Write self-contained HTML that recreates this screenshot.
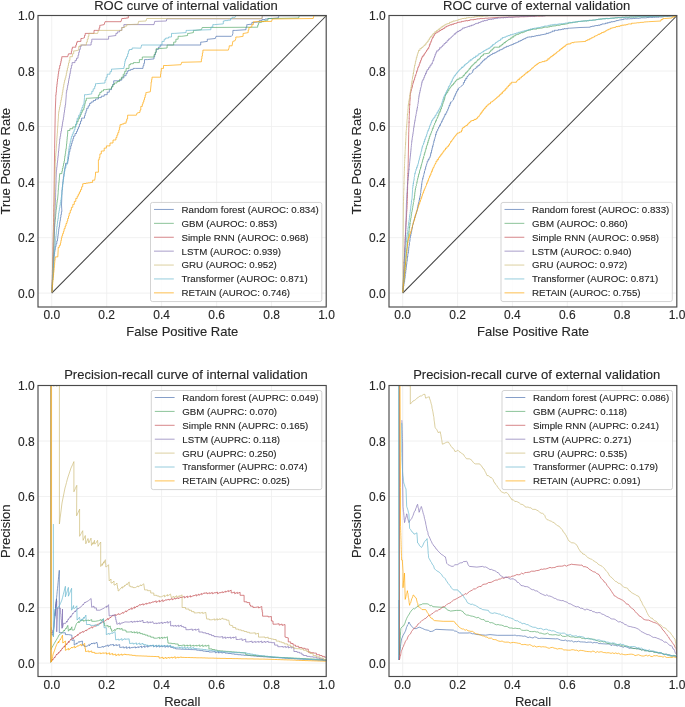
<!DOCTYPE html><html><head><meta charset="utf-8"><style>html,body{margin:0;padding:0;background:#fff;}svg{display:block;will-change:transform;} text{stroke:#262626;stroke-width:0.12px;}</style></head><body><svg width="685" height="707" viewBox="0 0 685 707" font-family='"Liberation Sans", sans-serif'>
<rect width="685" height="707" fill="#fff"/>
<clipPath id="clipTL"><rect x="38" y="15.5" width="288.5" height="291.5"/></clipPath>
<path d="M51.74 15.5V307M38 293.12H326.5M106.69 15.5V307M38 237.60H326.5M161.64 15.5V307M38 182.07H326.5M216.60 15.5V307M38 126.55H326.5M271.55 15.5V307M38 71.02H326.5M326.50 15.5V307M38 15.50H326.5" stroke="#eeeeee" stroke-width="0.85" fill="none"/>
<path d="M51.74 293.12L326.50 15.50" stroke="#404040" stroke-width="1.05" fill="none"/>
<g clip-path="url(#clipTL)" fill="none" stroke-width="1.0" stroke-linejoin="miter" stroke-opacity="0.68">
<path d="M52.0,292.3 52.0,289.9 52.1,289.9 52.1,287.5 52.3,287.5 52.3,285.0 52.4,285.0 52.4,282.6 52.5,282.6 52.5,280.2 52.7,280.2 52.7,277.8 52.8,277.8 52.8,275.4 53.0,275.4 53.0,272.9 53.1,272.9 53.1,270.5 53.2,270.5 53.2,268.1 53.4,268.1 53.4,265.7 53.5,265.7 53.5,263.2 53.6,263.2 53.6,260.8 53.8,260.8 53.8,258.4 53.9,258.4 53.9,256.2 54.2,256.2 54.2,254.0 54.6,254.0 54.6,251.8 54.9,251.8 54.9,249.6 55.3,249.6 55.3,246.7 56.0,246.7 56.0,243.8 56.8,243.8 56.8,240.9 57.5,240.9 57.5,238.6 57.8,238.6 57.8,236.2 58.1,236.2 58.1,233.9 58.4,233.9 58.4,231.5 58.7,231.5 58.7,229.2 59.0,229.2 59.0,227.0 59.4,227.0 59.4,224.8 59.7,224.8 59.7,222.6 60.0,222.6 60.0,220.4 60.4,220.4 60.4,217.5 60.9,217.5 60.9,214.6 61.4,214.6 61.4,211.7 61.9,211.7 61.5,205.0 62.0,192.6 62.0,190.0 62.3,190.0 62.3,187.4 62.6,187.4 62.6,184.7 62.8,184.7 62.8,182.1 63.1,182.1 63.1,179.5 63.4,179.5 63.4,176.9 63.8,176.9 63.8,174.2 64.2,174.2 64.2,171.6 64.7,171.6 64.7,168.9 65.1,168.9 65.1,166.3 65.5,166.3 65.5,163.4 67.7,163.4 67.7,161.2 68.1,161.2 68.1,159.0 68.5,159.0 68.5,156.8 68.8,156.8 68.8,154.6 69.2,154.6 69.2,151.7 69.9,151.7 69.9,148.8 70.7,148.8 70.7,145.9 71.4,145.9 71.4,143.5 72.1,143.5 72.1,141.0 72.9,141.0 72.9,138.6 73.6,138.6 73.6,136.1 75.0,136.1 75.0,133.5 76.5,133.5 76.5,131.3 77.5,131.3 77.5,129.1 78.4,129.1 78.4,126.9 79.4,126.9 79.4,124.0 80.5,124.0 80.5,121.1 81.6,121.1 81.6,118.1 84.5,118.1 84.5,115.7 85.2,115.7 85.2,113.2 86.0,113.2 86.0,110.8 86.7,110.8 86.7,108.3 88.2,108.3 88.2,105.9 89.6,105.9 89.6,103.4 91.1,103.4 91.1,102.0 93.3,102.0 93.3,100.5 95.5,100.5 95.5,99.0 98.4,99.0 98.4,97.6 101.3,97.6 101.3,96.2 104.2,96.2 104.2,94.7 107.2,94.7 107.2,92.2 109.3,92.2 109.3,89.6 111.5,89.6 111.5,87.0 112.6,87.0 112.6,84.5 113.7,84.5 113.7,80.8 117.4,80.8 121.8,80.1 121.8,77.9 123.9,77.9 123.9,75.7 126.1,75.7 126.1,73.5 127.2,73.5 127.2,71.3 128.3,71.3 128.3,70.3 130.7,70.3 130.7,69.4 133.2,69.4 133.2,68.4 135.6,68.4 143.0,68.4 143.0,65.8 143.8,65.8 143.8,63.3 144.5,63.3 144.5,59.6 147.4,59.6 154.0,58.9 154.0,56.7 154.7,56.7 154.7,54.5 155.5,54.5 155.5,52.3 156.2,52.3 156.2,49.4 158.4,49.4 158.4,47.2 160.2,47.2 160.2,45.0 162.0,45.0 200.7,45.0 200.7,42.1 202.2,42.1 207.3,41.4 207.3,39.2 208.7,39.2 215.3,38.5 216.0,36.3 231.4,36.3 232.2,35.5 232.9,33.4 232.9,30.4 235.8,30.4 246.0,29.7 246.0,27.1 246.8,27.1 246.8,24.6 247.5,24.6 251.9,24.2 251.9,22.4 255.5,22.4 259.2,21.7 259.2,20.6 262.1,20.6 262.1,19.5 265.0,19.5 265.0,19.0 267.9,19.0 267.9,18.5 270.9,18.5 278.2,18.0 278.9,15.6 326.5,15.6" stroke="#4C72B0"/>
<path d="M52.0,292.3 52.0,289.8 52.1,289.8 52.1,287.3 52.2,287.3 52.2,284.7 52.3,284.7 52.3,282.2 52.4,282.2 52.4,279.7 52.5,279.7 52.5,277.2 52.6,277.2 52.6,274.6 52.7,274.6 52.7,272.1 52.8,272.1 52.8,269.6 52.9,269.6 52.9,267.1 53.0,267.1 53.0,264.5 53.1,264.5 53.1,262.0 53.2,262.0 53.2,259.5 53.4,259.5 53.4,257.0 53.5,257.0 53.5,254.4 53.6,254.4 53.6,251.9 53.7,251.9 53.7,249.4 53.8,249.4 53.8,246.9 53.9,246.9 53.9,244.3 54.0,244.3 54.0,241.8 54.1,241.8 54.1,239.3 54.2,239.3 54.2,236.8 54.3,236.8 54.3,234.2 54.4,234.2 54.4,231.7 54.5,231.7 54.5,229.2 54.6,229.2 54.6,226.7 54.8,226.7 54.8,224.2 55.0,224.2 55.0,221.7 55.2,221.7 55.2,219.2 55.5,219.2 55.5,216.7 55.7,216.7 55.7,214.2 55.9,214.2 55.9,211.7 56.1,211.7 56.1,209.4 56.4,209.4 56.4,207.0 56.7,207.0 56.7,204.7 56.9,204.7 56.9,202.3 57.2,202.3 57.2,200.0 57.5,200.0 58.2,192.6 58.2,190.1 58.4,190.1 58.4,187.6 58.6,187.6 58.6,185.1 58.8,185.1 58.8,182.6 59.1,182.6 59.1,180.1 59.3,180.1 59.3,177.6 59.5,177.6 59.5,175.1 59.7,175.1 59.7,173.6 61.9,173.6 61.9,171.1 62.4,171.1 62.4,168.5 63.0,168.5 63.0,165.9 63.5,165.9 63.5,163.4 64.1,163.4 64.1,161.0 64.5,161.0 64.5,158.5 64.8,158.5 64.8,156.1 65.2,156.1 65.2,153.7 65.6,153.7 65.6,151.2 65.9,151.2 65.9,148.8 66.3,148.8 66.3,146.4 66.5,146.4 66.5,143.9 66.8,143.9 66.8,141.5 67.0,141.5 67.0,139.1 67.2,139.1 67.2,136.6 67.5,136.6 67.5,134.2 67.7,134.2 67.7,130.5 69.9,130.5 69.9,128.7 72.8,128.7 72.8,126.9 75.8,126.9 75.8,124.2 77.0,124.2 77.0,121.6 78.2,121.6 78.2,118.9 79.4,118.9 79.4,116.7 80.4,116.7 80.4,114.5 81.3,114.5 81.3,112.3 82.3,112.3 82.3,110.0 83.8,110.0 83.8,107.8 84.3,107.8 84.3,105.6 84.8,105.6 84.8,103.4 85.3,103.4 85.3,100.8 86.3,100.8 86.3,98.3 87.4,98.3 98.4,97.6 98.4,95.0 99.8,95.0 99.8,92.5 101.3,92.5 101.3,91.0 103.5,91.0 103.5,89.6 105.7,89.6 111.5,88.8 111.5,86.7 113.0,86.7 113.0,84.5 114.5,84.5 114.5,83.0 117.0,83.0 117.0,81.5 119.6,81.5 119.6,79.3 121.4,79.3 121.4,77.2 123.2,77.2 123.2,74.2 124.7,74.2 124.7,71.3 126.1,71.3 126.1,68.4 129.0,68.4 129.0,64.7 130.5,64.7 130.5,63.7 133.4,63.7 133.4,62.6 136.4,62.6 139.4,62.6 139.4,59.6 142.3,59.6 142.3,57.0 143.8,57.0 154.0,57.0 154.0,54.6 155.1,54.6 155.1,52.3 156.2,52.3 156.2,48.7 157.6,48.7 167.1,48.0 167.1,45.0 168.6,45.0 173.7,45.0 173.7,42.1 175.9,42.1 175.9,39.2 178.1,39.2 178.1,36.3 181.7,36.3 187.6,35.5 187.6,33.4 189.0,33.4 193.4,32.6 193.4,30.4 194.9,30.4 201.4,29.7 202.2,27.5 257.7,27.2 257.7,25.1 258.4,25.1 258.4,23.1 259.2,23.1 259.2,22.4 261.4,22.4 261.4,21.6 263.6,21.6 263.6,20.9 265.8,20.9 265.8,20.2 268.0,20.2 268.0,18.5 271.6,18.5 298.6,18.0 299.3,15.6 326.5,15.6" stroke="#55A868"/>
<path d="M52.0,292.3 52.0,289.8 52.1,289.8 52.1,287.3 52.1,287.3 52.1,284.8 52.2,284.8 52.2,282.3 52.2,282.3 52.2,279.8 52.3,279.8 52.3,277.3 52.3,277.3 52.3,274.8 52.4,274.8 52.4,272.3 52.4,272.3 52.4,269.9 52.5,269.9 52.5,267.4 52.5,267.4 52.5,264.9 52.6,264.9 52.6,262.4 52.7,262.4 52.7,259.9 52.7,259.9 52.7,257.4 52.8,257.4 52.8,254.9 52.8,254.9 52.8,252.4 52.9,252.4 52.9,249.9 52.9,249.9 52.9,247.4 53.0,247.4 53.0,244.9 53.0,244.9 53.0,242.4 53.1,242.4 53.1,239.9 53.1,239.9 53.1,237.4 53.2,237.4 53.2,234.9 53.2,234.9 53.2,232.4 53.3,232.4 53.3,229.9 53.4,229.9 53.4,227.4 53.4,227.4 53.4,225.0 53.5,225.0 53.5,222.5 53.5,222.5 53.5,220.0 53.6,220.0 53.6,217.5 53.6,217.5 53.6,215.0 53.7,215.0 53.7,212.5 53.7,212.5 53.7,210.0 53.8,210.0 53.8,207.5 53.8,207.5 53.8,205.0 53.9,205.0 54.6,148.8 55.3,110.0 55.8,97.6 55.8,94.9 56.1,94.9 56.1,92.2 56.4,92.2 56.4,89.5 56.6,89.5 56.6,86.9 56.9,86.9 56.9,84.2 57.2,84.2 57.2,81.5 57.5,81.5 57.5,79.0 57.9,79.0 57.9,76.4 58.2,76.4 58.2,73.8 58.6,73.8 58.6,71.3 59.0,71.3 59.0,68.4 59.7,68.4 59.7,65.5 60.4,65.5 60.4,63.3 60.9,63.3 60.9,61.1 61.3,61.1 61.3,58.9 61.8,58.9 61.8,56.7 62.2,56.7 67.7,56.7 68.5,53.8 71.4,53.8 71.4,51.2 71.9,51.2 71.9,48.7 72.4,48.7 72.4,47.2 75.8,47.2 75.8,45.0 76.5,45.0 76.5,42.8 77.2,42.8 77.2,41.4 80.9,41.4 80.9,38.5 82.3,38.5 84.5,37.7 84.5,35.5 85.2,35.5 85.2,33.4 86.0,33.4 94.0,33.4 94.0,30.4 95.2,30.4 99.1,30.4 99.1,27.9 99.8,27.9 99.8,25.3 100.6,25.3 104.2,24.6 105.0,21.7 121.0,21.7 121.8,18.8 121.8,18.5 124.0,18.5 124.0,18.3 126.1,18.3 126.1,18.0 128.3,18.0 128.3,15.6 129.3,15.6 326.5,15.6" stroke="#C44E52"/>
<path d="M52.0,292.3 52.0,289.8 52.1,289.8 52.1,287.3 52.2,287.3 52.2,284.8 52.3,284.8 52.3,282.3 52.4,282.3 52.4,279.8 52.5,279.8 52.5,277.3 52.6,277.3 52.6,274.8 52.7,274.8 52.7,272.3 52.8,272.3 52.8,269.9 52.8,269.9 52.8,267.4 52.9,267.4 52.9,264.9 53.0,264.9 53.0,262.4 53.1,262.4 53.1,259.9 53.2,259.9 53.2,257.4 53.3,257.4 53.3,254.9 53.4,254.9 53.4,252.4 53.5,252.4 53.5,249.9 53.6,249.9 53.6,247.4 53.7,247.4 53.7,244.9 53.8,244.9 53.8,242.4 53.9,242.4 53.9,239.9 54.0,239.9 54.0,237.4 54.1,237.4 54.1,234.9 54.2,234.9 54.2,232.4 54.3,232.4 54.3,229.9 54.4,229.9 54.4,227.4 54.5,227.4 54.5,225.0 54.5,225.0 54.5,222.5 54.6,222.5 54.6,220.0 54.7,220.0 54.7,217.5 54.8,217.5 54.8,215.0 54.9,215.0 54.9,212.5 55.0,212.5 55.0,210.0 55.1,210.0 55.1,207.5 55.2,207.5 55.2,205.0 55.3,205.0 55.3,202.5 55.4,202.5 55.4,200.0 55.5,200.0 55.5,197.4 55.6,197.4 55.6,194.9 55.6,194.9 55.6,192.4 55.7,192.4 55.7,189.9 55.8,189.9 55.8,187.3 55.9,187.3 55.9,184.8 56.0,184.8 56.0,182.3 56.1,182.3 56.1,179.8 56.1,179.8 56.1,177.2 56.2,177.2 56.2,174.7 56.3,174.7 56.3,172.2 56.4,172.2 56.4,169.9 56.7,169.9 56.7,167.5 57.0,167.5 57.0,165.2 57.2,165.2 57.2,162.8 57.5,162.8 57.5,160.5 57.8,160.5 57.8,158.1 58.0,158.1 58.0,155.8 58.3,155.8 58.3,153.4 58.5,153.4 58.5,151.0 58.8,151.0 58.8,148.6 59.0,148.6 59.0,146.2 59.2,146.2 59.2,143.9 59.5,143.9 59.5,141.5 59.7,141.5 59.7,138.9 60.1,138.9 60.1,136.3 60.6,136.3 60.6,133.6 61.0,133.6 61.0,131.0 61.5,131.0 61.5,128.4 61.9,128.4 61.9,126.2 62.3,126.2 62.3,124.0 62.6,124.0 62.6,121.8 63.0,121.8 63.0,119.6 63.4,119.6 63.4,117.2 63.8,117.2 63.8,114.7 64.1,114.7 64.1,112.3 64.5,112.3 64.5,109.9 64.8,109.9 64.8,107.4 65.2,107.4 65.2,105.0 65.5,105.0 66.3,94.7 66.3,92.4 66.7,92.4 66.7,90.0 67.2,90.0 67.2,87.7 67.6,87.7 67.6,85.3 68.1,85.3 68.1,83.0 68.5,83.0 68.5,80.7 68.9,80.7 68.9,78.3 69.4,78.3 69.4,76.0 69.8,76.0 69.8,73.6 70.3,73.6 70.3,71.3 70.7,71.3 70.7,68.4 71.4,68.4 71.4,65.5 72.1,65.5 72.1,62.6 75.0,62.6 75.0,60.4 76.5,60.4 76.5,58.2 78.0,58.2 78.0,55.2 78.7,55.2 78.7,52.3 79.4,52.3 79.4,49.4 80.3,49.4 80.3,46.5 81.2,46.5 81.2,45.0 83.8,45.0 91.1,45.0 91.1,42.1 91.8,42.1 91.8,39.2 92.6,39.2 108.6,39.2 108.6,36.3 110.0,36.3 115.9,35.5 115.9,33.4 117.4,33.4 117.4,31.9 119.6,31.9 119.6,30.4 121.8,30.4 121.8,27.5 123.9,27.5 123.9,24.6 126.1,24.6 154.0,24.6 154.7,21.4 166.4,21.0 166.8,18.8 262.0,18.8 262.5,15.6 326.5,15.6" stroke="#8172B2"/>
<path d="M52.0,292.3 52.0,289.8 52.1,289.8 52.1,287.3 52.1,287.3 52.1,284.8 52.2,284.8 52.2,282.3 52.3,282.3 52.3,279.8 52.3,279.8 52.3,277.3 52.4,277.3 52.4,274.8 52.5,274.8 52.5,272.3 52.5,272.3 52.5,269.9 52.6,269.9 52.6,267.4 52.7,267.4 52.7,264.9 52.7,264.9 52.7,262.4 52.8,262.4 52.8,259.9 52.9,259.9 52.9,257.4 52.9,257.4 52.9,254.9 53.0,254.9 53.0,252.4 53.1,252.4 53.1,249.9 53.1,249.9 53.1,247.4 53.2,247.4 53.2,244.9 53.2,244.9 53.2,242.4 53.3,242.4 53.3,239.9 53.4,239.9 53.4,237.4 53.4,237.4 53.4,234.9 53.5,234.9 53.5,232.4 53.6,232.4 53.6,229.9 53.6,229.9 53.6,227.4 53.7,227.4 53.7,225.0 53.8,225.0 53.8,222.5 53.8,222.5 53.8,220.0 53.9,220.0 53.9,217.5 54.0,217.5 54.0,215.0 54.0,215.0 54.0,212.5 54.1,212.5 54.1,210.0 54.2,210.0 54.2,207.5 54.2,207.5 54.2,205.0 54.3,205.0 54.3,202.6 54.4,202.6 54.4,200.1 54.4,200.1 54.4,197.7 54.5,197.7 54.5,195.2 54.5,195.2 54.5,192.8 54.6,192.8 54.6,190.3 54.7,190.3 54.7,187.9 54.7,187.9 54.7,185.4 54.8,185.4 54.8,183.0 54.8,183.0 54.8,180.5 54.9,180.5 54.9,178.1 54.9,178.1 54.9,175.6 55.0,175.6 55.0,173.2 55.1,173.2 55.1,170.7 55.1,170.7 55.1,168.3 55.2,168.3 55.2,165.8 55.2,165.8 55.2,163.4 55.3,163.4 55.3,160.9 55.5,160.9 55.5,158.4 55.6,158.4 55.6,155.8 55.8,155.8 55.8,153.3 56.0,153.3 56.0,150.8 56.2,150.8 56.2,148.3 56.3,148.3 56.3,145.8 56.5,145.8 56.5,143.3 56.7,143.3 56.7,140.7 56.9,140.7 56.9,138.2 57.0,138.2 57.0,135.7 57.2,135.7 57.2,133.3 57.4,133.3 57.4,130.8 57.5,130.8 57.5,128.4 57.7,128.4 57.7,126.0 57.9,126.0 57.9,123.5 58.0,123.5 58.0,121.1 58.2,121.1 58.2,118.7 58.4,118.7 58.4,116.2 58.5,116.2 58.5,113.8 58.7,113.8 58.7,111.6 59.1,111.6 59.1,109.4 59.5,109.4 59.5,107.2 60.0,107.2 60.0,105.0 60.4,105.0 60.4,102.5 60.9,102.5 60.9,100.1 61.4,100.1 61.4,97.6 61.9,97.6 61.9,95.0 62.3,95.0 62.3,92.4 62.8,92.4 62.8,89.7 63.2,89.7 63.2,87.1 63.7,87.1 63.7,84.5 64.1,84.5 64.1,82.3 64.6,82.3 64.6,80.1 65.2,80.1 65.2,77.9 65.8,77.9 65.8,75.7 66.3,75.7 66.3,73.2 66.8,73.2 66.8,70.6 67.4,70.6 67.4,68.0 68.0,68.0 68.0,65.5 68.5,65.5 68.5,63.0 69.2,63.0 69.2,60.4 69.9,60.4 69.9,56.7 72.4,56.7 72.4,53.8 73.7,53.8 73.7,50.9 75.0,50.9 78.7,50.1 78.7,46.5 80.1,46.5 80.1,45.0 83.1,45.0 86.4,45.0 86.4,42.1 87.3,42.1 87.3,39.2 88.2,39.2 88.2,36.3 88.9,36.3 88.9,33.4 89.6,33.4 97.7,33.4 98.4,30.4 121.8,30.4 121.8,27.5 124.7,27.5 124.7,26.1 126.8,26.1 126.8,24.6 129.0,24.6 135.0,24.3 137.9,24.3 138.6,21.4 146.0,21.0 146.7,18.5 262.0,18.5 262.0,15.6 326.5,15.6" stroke="#CCB974"/>
<path d="M52.0,292.3 52.0,289.7 52.2,289.7 52.2,287.2 52.3,287.2 52.3,284.6 52.5,284.6 52.5,282.0 52.6,282.0 52.6,279.4 52.8,279.4 52.8,276.9 53.0,276.9 53.0,274.3 53.1,274.3 53.1,271.7 53.3,271.7 53.3,269.1 53.5,269.1 53.5,266.6 53.6,266.6 53.6,264.0 53.8,264.0 53.8,261.4 54.0,261.4 54.0,258.8 54.1,258.8 54.1,256.2 54.3,256.2 54.3,253.7 54.4,253.7 54.4,251.1 54.6,251.1 54.6,248.7 54.8,248.7 54.8,246.2 55.1,246.2 55.1,243.8 55.3,243.8 55.3,241.4 55.6,241.4 55.6,238.9 55.8,238.9 55.8,236.5 56.1,236.5 56.1,234.1 56.3,234.1 56.3,231.6 56.6,231.6 56.6,229.2 56.8,229.2 56.8,226.5 57.2,226.5 57.2,223.8 57.5,223.8 57.5,221.1 57.9,221.1 57.9,218.5 58.3,218.5 58.3,215.8 58.6,215.8 58.6,213.1 59.0,213.1 59.0,210.5 59.4,210.5 59.4,207.9 59.9,207.9 59.9,205.2 60.3,205.2 60.3,202.6 60.8,202.6 60.8,200.0 61.2,200.0 61.2,197.4 61.5,197.4 61.5,194.7 61.8,194.7 61.8,192.1 62.0,192.1 62.0,189.4 62.3,189.4 62.3,186.8 62.6,186.8 62.6,184.1 63.0,184.1 63.0,181.4 63.3,181.4 63.3,178.8 63.7,178.8 63.7,176.1 64.1,176.1 64.1,173.4 64.4,173.4 64.4,170.7 64.8,170.7 64.8,167.8 65.9,167.8 65.9,164.9 67.0,164.9 67.0,162.2 67.4,162.2 67.4,159.5 67.7,159.5 67.7,156.9 68.1,156.9 68.1,154.2 68.5,154.2 68.5,151.5 68.8,151.5 68.8,148.8 69.2,148.8 69.2,146.2 69.8,146.2 69.8,143.7 70.3,143.7 70.3,141.2 70.9,141.2 70.9,138.6 71.4,138.6 71.4,136.4 72.3,136.4 72.3,134.2 73.2,134.2 73.2,132.0 74.1,132.0 74.1,129.8 75.0,129.8 75.0,126.9 75.7,126.9 75.7,124.0 76.5,124.0 76.5,121.1 77.2,121.1 77.2,118.2 78.7,118.2 78.7,115.2 80.1,115.2 80.1,112.7 81.0,112.7 81.0,110.1 81.9,110.1 81.9,107.5 82.9,107.5 82.9,105.0 83.8,105.0 84.5,97.6 84.5,94.7 86.7,94.7 91.8,93.9 91.8,91.3 93.2,91.3 93.2,88.8 94.7,88.8 94.7,86.2 95.5,86.2 95.5,83.7 96.2,83.7 105.0,83.0 105.0,80.1 106.1,80.1 106.1,77.2 107.2,77.2 107.2,74.2 110.0,74.2 110.0,71.7 111.5,71.7 111.5,69.1 113.0,69.1 124.0,68.4 124.0,66.0 124.5,66.0 124.5,63.5 124.9,63.5 124.9,61.1 125.4,61.1 125.4,58.9 126.5,58.9 126.5,56.7 127.6,56.7 127.6,53.8 128.4,53.8 128.4,50.9 129.3,50.9 129.3,49.5 132.1,49.5 132.1,48.0 134.9,48.0 140.8,48.2 141.6,45.0 162.0,45.0 162.0,41.4 164.2,41.4 164.2,39.2 165.7,39.2 165.7,38.1 168.6,38.1 168.6,37.0 171.5,37.0 171.5,33.4 174.4,33.4 186.1,32.6 186.1,30.4 187.6,30.4 210.9,29.7 210.9,27.1 212.8,27.1 212.8,24.6 214.6,24.6 223.3,23.9 223.3,21.0 224.8,21.0 224.8,20.6 227.7,20.6 227.7,20.2 230.6,20.2 230.6,18.5 232.0,18.5 232.0,17.3 235.1,17.3 235.8,15.6 326.5,15.6" stroke="#64B5CD"/>
<path d="M52.0,292.3 52.0,289.8 52.2,289.8 52.2,287.4 52.5,287.4 52.5,284.9 52.7,284.9 52.7,282.4 52.9,282.4 52.9,279.9 53.2,279.9 53.2,277.5 53.4,277.5 53.4,275.0 53.6,275.0 53.6,272.5 53.9,272.5 53.9,270.1 54.1,270.1 54.1,267.6 54.4,267.6 54.4,265.1 54.6,265.1 54.6,262.6 54.8,262.6 54.8,260.2 55.1,260.2 55.1,257.7 55.3,257.7 55.3,256.9 57.8,256.9 58.2,249.6 58.2,247.4 59.3,247.4 59.3,245.3 60.4,245.3 60.4,242.9 60.9,242.9 60.9,240.4 61.4,240.4 61.4,238.0 61.9,238.0 61.9,235.8 62.6,235.8 62.6,233.6 63.4,233.6 63.4,231.4 64.1,231.4 64.1,228.7 65.1,228.7 65.1,226.1 66.0,226.1 66.0,223.4 67.0,223.4 67.0,221.0 67.7,221.0 67.7,218.5 68.5,218.5 68.5,216.1 69.2,216.1 69.2,213.1 70.3,213.1 70.3,210.2 71.4,210.2 71.4,207.3 72.8,207.3 72.8,204.4 74.3,204.4 74.3,201.4 75.8,201.4 75.8,198.4 77.2,198.4 77.2,196.2 78.3,196.2 78.3,194.1 79.4,194.1 79.4,191.9 80.5,191.9 80.5,189.7 81.6,189.7 81.6,186.8 82.7,186.8 82.7,183.8 83.8,183.8 83.8,183.5 86.0,183.5 86.0,183.1 88.2,183.1 88.2,182.8 90.4,182.8 90.4,182.4 92.6,182.4 92.6,180.2 94.7,180.2 95.5,175.1 95.5,172.2 98.4,172.2 98.4,161.9 98.4,159.8 99.2,159.8 99.2,157.6 99.9,157.6 99.9,153.9 101.3,153.9 101.3,151.0 104.2,151.0 104.2,148.1 106.4,148.1 106.4,145.9 110.0,145.9 110.0,143.0 113.0,143.0 113.0,140.0 115.9,140.0 115.9,137.6 116.9,137.6 116.9,135.1 117.8,135.1 117.8,132.7 118.8,132.7 118.8,130.1 119.4,130.1 119.4,127.6 120.0,127.6 120.0,124.7 121.8,124.7 121.8,124.0 123.9,124.0 123.9,123.2 126.1,123.2 126.1,121.1 126.8,121.1 126.8,118.9 127.6,118.9 127.6,115.2 129.8,115.2 136.4,115.2 137.1,113.0 140.0,112.3 140.0,110.0 140.8,110.0 140.8,106.4 142.3,106.4 142.3,104.2 143.0,104.2 143.0,102.0 143.8,102.0 143.8,99.8 144.5,99.8 144.5,97.6 145.2,97.6 145.2,95.0 145.9,95.0 145.9,92.5 146.7,92.5 150.3,91.8 151.1,84.5 151.1,82.1 151.6,82.1 151.6,79.6 152.0,79.6 152.0,77.2 152.5,77.2 160.5,77.2 160.5,74.2 160.9,74.2 160.9,71.3 161.3,71.3 161.3,68.4 163.5,68.4 163.5,65.5 167.1,65.5 181.0,64.7 181.7,62.3 201.4,61.8 201.4,58.9 201.9,58.9 201.9,56.0 202.4,56.0 202.4,53.1 202.9,53.1 202.9,50.1 205.1,50.1 228.4,50.1 229.2,47.2 229.2,45.8 232.1,45.8 232.8,41.4 235.1,40.7 235.8,38.5 235.8,37.0 238.8,37.0 243.1,36.3 243.1,33.4 243.9,33.4 248.2,32.6 248.2,30.1 248.9,30.1 248.9,27.5 249.7,27.5 251.9,26.8 251.9,24.6 253.4,24.6 253.4,21.7 254.8,21.7 271.6,21.4 272.3,19.0 313.2,18.5 313.9,15.6 326.5,15.6" stroke="#FFA500"/>
</g>
<rect x="150.5" y="202.45" width="171.3" height="99.1" rx="2" fill="#fff" fill-opacity="0.8" stroke="#c8c8c8" stroke-width="0.8"/>
<path d="M154.0 209.45H173.8" stroke="#4C72B0" stroke-width="1.0" stroke-opacity="0.68"/>
<text x="181.5" y="212.85" font-size="9.7" fill="#262626">Random forest (AUROC: 0.834)</text>
<path d="M154.0 223.35H173.8" stroke="#55A868" stroke-width="1.0" stroke-opacity="0.68"/>
<text x="181.5" y="226.75" font-size="9.7" fill="#262626">GBM (AUROC: 0.853)</text>
<path d="M154.0 237.25H173.8" stroke="#C44E52" stroke-width="1.0" stroke-opacity="0.68"/>
<text x="181.5" y="240.65" font-size="9.7" fill="#262626">Simple RNN (AUROC: 0.968)</text>
<path d="M154.0 251.15H173.8" stroke="#8172B2" stroke-width="1.0" stroke-opacity="0.68"/>
<text x="181.5" y="254.55" font-size="9.7" fill="#262626">LSTM (AUROC: 0.939)</text>
<path d="M154.0 265.05H173.8" stroke="#CCB974" stroke-width="1.0" stroke-opacity="0.68"/>
<text x="181.5" y="268.45" font-size="9.7" fill="#262626">GRU (AUROC: 0.952)</text>
<path d="M154.0 278.95H173.8" stroke="#64B5CD" stroke-width="1.0" stroke-opacity="0.68"/>
<text x="181.5" y="282.35" font-size="9.7" fill="#262626">Transformer (AUROC: 0.871)</text>
<path d="M154.0 292.85H173.8" stroke="#FFA500" stroke-width="1.0" stroke-opacity="0.68"/>
<text x="181.5" y="296.25" font-size="9.7" fill="#262626">RETAIN (AUROC: 0.746)</text>
<rect x="38" y="15.5" width="288.20" height="291.50" fill="none" stroke="#4a4a4a" stroke-width="1.15"/>
<text x="51.74" y="319.4" font-size="12" fill="#262626" text-anchor="middle">0.0</text>
<text x="34.7" y="297.92" font-size="12" fill="#262626" text-anchor="end">0.0</text>
<text x="106.69" y="319.4" font-size="12" fill="#262626" text-anchor="middle">0.2</text>
<text x="34.7" y="242.40" font-size="12" fill="#262626" text-anchor="end">0.2</text>
<text x="161.64" y="319.4" font-size="12" fill="#262626" text-anchor="middle">0.4</text>
<text x="34.7" y="186.87" font-size="12" fill="#262626" text-anchor="end">0.4</text>
<text x="216.60" y="319.4" font-size="12" fill="#262626" text-anchor="middle">0.6</text>
<text x="34.7" y="131.35" font-size="12" fill="#262626" text-anchor="end">0.6</text>
<text x="271.55" y="319.4" font-size="12" fill="#262626" text-anchor="middle">0.8</text>
<text x="34.7" y="75.82" font-size="12" fill="#262626" text-anchor="end">0.8</text>
<text x="326.50" y="319.4" font-size="12" fill="#262626" text-anchor="middle">1.0</text>
<text x="34.7" y="20.30" font-size="12" fill="#262626" text-anchor="end">1.0</text>
<text x="185.95" y="9.8" font-size="13" fill="#262626" text-anchor="middle">ROC curve of internal validation</text>
<text x="182.25" y="336.2" font-size="13" fill="#262626" text-anchor="middle">False Positive Rate</text>
<text x="9.7" y="161.25" font-size="13" fill="#262626" text-anchor="middle" transform="rotate(-90 9.7 161.25)">True Positive Rate</text>
<clipPath id="clipTR"><rect x="389" y="15.5" width="288" height="291.5"/></clipPath>
<path d="M402.71 15.5V307M389 293.12H677M457.57 15.5V307M389 237.60H677M512.43 15.5V307M389 182.07H677M567.29 15.5V307M389 126.55H677M622.14 15.5V307M389 71.02H677M677.00 15.5V307M389 15.50H677" stroke="#eeeeee" stroke-width="0.85" fill="none"/>
<path d="M402.71 293.12L677.00 15.50" stroke="#404040" stroke-width="1.05" fill="none"/>
<g clip-path="url(#clipTR)" fill="none" stroke-width="1.0" stroke-linejoin="miter" stroke-opacity="0.68">
<path d="M402.8,292.5 402.8,290.5 403.2,290.5 403.2,288.0 403.5,288.1 403.5,285.9 403.9,286.2 403.9,284.0 404.2,283.8 404.2,281.8 404.6,281.8 404.6,279.6 404.8,279.7 404.8,278.1 405.1,278.1 405.1,276.1 405.3,276.1 405.3,274.2 405.6,273.9 405.6,272.0 405.8,272.2 405.8,270.1 406.1,270.0 406.1,268.0 406.3,267.9 406.3,266.4 406.5,266.5 406.5,264.3 406.8,264.4 406.8,262.4 407.0,262.3 407.0,260.2 407.3,260.4 407.3,258.4 407.5,258.4 407.5,256.1 407.8,256.4 407.8,254.2 408.1,254.1 408.1,252.0 408.4,252.4 408.4,250.2 408.7,250.4 408.7,247.9 408.9,248.0 408.9,246.4 409.2,246.2 409.2,244.1 409.5,244.3 409.5,242.3 409.8,241.9 409.8,240.0 410.1,240.2 410.1,238.3 410.4,238.0 410.4,235.7 410.8,236.0 410.8,233.9 411.3,233.7 411.3,231.6 411.7,231.6 411.7,229.8 412.1,229.4 412.1,227.3 412.5,227.7 412.5,225.5 413.0,225.2 413.0,223.3 413.4,223.4 413.4,221.7 414.0,221.2 414.0,219.4 414.6,219.6 414.6,217.5 415.2,217.5 415.2,215.3 415.8,215.5 415.8,213.9 416.4,213.7 416.4,211.8 417.0,211.7 417.0,209.8 417.4,210.0 417.4,207.7 417.8,207.9 417.8,205.7 418.2,205.9 418.2,203.7 418.7,203.8 418.7,201.9 419.1,201.7 419.1,199.8 419.5,200.0 419.5,198.0 419.8,198.5 419.8,196.7 420.2,196.7 420.2,194.9 420.5,195.0 420.5,193.1 420.8,192.7 420.8,190.6 421.0,190.7 421.0,188.4 421.3,188.5 421.3,186.6 421.6,186.8 421.6,184.2 421.8,184.5 421.8,182.6 422.1,182.4 422.1,180.5 422.6,180.2 422.6,178.3 423.1,178.7 423.1,176.5 423.6,176.5 423.6,174.8 424.0,174.4 424.0,172.7 424.5,172.9 424.5,171.0 425.0,170.7 425.0,168.9 425.6,169.1 425.6,166.8 426.1,166.8 426.1,165.4 426.6,165.2 426.6,163.7 427.2,163.4 427.2,161.2 428.2,161.2 428.2,159.3 429.1,159.7 429.1,157.9 430.1,157.6 430.1,155.8 430.6,156.0 430.6,153.8 431.0,154.1 431.0,152.0 431.5,152.4 431.5,150.2 432.0,150.5 432.0,148.2 432.4,148.2 432.4,146.5 432.9,146.9 432.9,145.0 433.3,145.0 433.3,143.3 433.8,143.0 433.8,140.8 434.4,140.9 434.4,138.9 435.0,138.7 435.0,136.8 435.5,136.6 435.5,134.5 436.1,135.0 436.1,132.5 436.7,132.7 436.7,131.0 437.7,130.8 437.7,129.0 438.6,128.7 438.6,127.0 439.6,126.9 439.6,124.9 440.5,125.4 440.5,123.6 441.4,123.2 441.4,121.6 442.2,121.9 442.2,119.9 443.1,119.9 443.1,118.1 444.0,118.1 444.0,116.4 444.9,116.2 444.9,114.2 445.9,114.6 445.9,112.9 446.8,112.8 446.8,111.0 447.7,110.8 447.7,109.2 448.4,109.1 448.4,107.4 449.1,107.3 449.1,105.3 449.9,105.7 449.9,103.5 450.6,103.8 450.6,102.0 451.3,102.0 453.4,100.0 453.4,98.3 454.1,98.5 454.1,96.7 454.9,96.6 454.9,94.9 455.6,95.2 455.6,93.4 456.4,93.3 456.4,91.5 457.4,91.3 457.4,89.7 458.3,90.0 458.3,88.3 459.3,88.0 461.0,86.3 463.4,84.5 463.4,82.5 464.5,82.6 464.5,80.2 465.7,80.4 465.7,78.3 466.9,78.7 466.9,76.7 468.0,76.4 468.0,75.5 469.2,75.0 469.2,73.8 470.4,74.0 472.7,72.3 472.7,70.6 473.3,70.6 473.3,69.4 473.9,69.3 476.2,68.2 476.2,66.8 477.9,67.0 477.9,65.4 479.7,65.3 479.7,64.2 480.8,63.8 480.8,62.8 481.9,62.8 481.9,61.7 483.0,61.5 483.0,60.2 484.6,60.2 484.6,58.9 486.1,59.1 486.1,58.0 487.7,57.6 487.7,56.3 489.2,56.6 489.2,55.5 490.8,55.3 490.8,54.6 492.6,54.3 492.6,53.3 494.3,53.5 494.3,52.8 496.1,52.7 496.1,51.9 497.8,51.6 497.8,50.8 499.6,50.9 499.6,49.8 501.4,49.8 501.4,49.3 503.1,49.1 503.1,48.0 504.9,48.0 504.9,47.2 506.6,47.2 506.6,46.2 508.4,46.5 508.4,45.9 510.1,45.5 510.1,45.1 511.8,45.1 511.8,44.5 513.5,44.4 513.5,43.6 515.2,43.6 515.2,42.9 516.9,42.8 516.9,42.3 518.6,42.1 518.6,41.1 520.3,41.3 520.3,40.5 522.1,40.4 522.1,39.6 523.8,39.4 523.8,38.7 525.6,38.7 525.6,37.9 527.3,37.7 527.3,37.1 529.5,37.1 529.5,36.8 531.7,37.1 531.7,36.3 533.9,36.6 533.9,36.2 536.1,36.0 536.1,35.6 538.1,35.7 538.1,35.2 540.2,35.4 540.2,34.9 542.2,34.8 542.2,34.6 544.3,34.4 544.3,34.2 546.3,34.1 546.3,33.1 548.3,33.6 548.3,32.9 550.4,32.7 550.4,32.1 552.4,31.9 552.4,30.9 554.5,31.3 554.5,30.2 556.5,30.4 556.5,30.3 558.4,30.3 558.4,29.5 560.3,30.0 560.3,29.6 562.2,29.5 562.2,28.9 564.0,29.3 564.0,28.5 565.9,28.9 565.9,28.6 567.8,28.8 567.8,28.2 569.7,28.2 580.0,27.5 590.2,27.2 590.2,26.7 592.2,26.5 592.2,26.1 594.1,26.3 594.1,25.9 596.0,25.6 596.0,25.5 598.0,25.6 598.0,25.1 600.0,25.3 600.0,24.7 601.9,24.6 601.9,23.9 603.7,24.0 603.7,23.9 605.5,23.8 605.5,23.0 607.4,23.4 607.4,22.6 609.2,22.9 609.2,22.2 611.0,22.3 611.0,21.7 612.9,21.9 612.9,21.6 614.7,21.6 614.7,21.1 616.5,21.0 616.5,20.5 618.3,20.6 618.3,20.3 620.0,19.9 620.0,19.9 621.8,19.8 621.8,19.4 623.5,19.6 623.5,18.9 625.3,19.1 625.3,18.7 627.3,19.2 627.3,18.7 629.3,18.9 629.3,18.9 631.3,18.5 631.3,18.8 633.3,18.5 633.3,18.4 635.3,18.5 635.3,18.2 637.3,18.4 637.3,18.4 639.3,18.3 639.3,18.2 641.3,18.0 641.3,17.7 643.2,17.9 643.2,17.8 645.1,17.9 645.1,17.9 647.0,17.7 647.0,17.4 648.9,17.6 648.9,17.2 650.8,17.4 650.8,17.4 652.7,17.5 652.7,17.0 654.6,17.4 654.6,17.0 656.5,17.3 656.5,16.8 658.4,17.4 658.4,16.8 660.3,17.0 660.3,17.0 662.4,17.0 662.4,16.9 664.5,16.4 664.5,16.2 666.6,16.3 666.6,16.5 668.6,16.4 668.6,16.3 670.7,16.1 670.7,15.7 672.8,16.2 672.8,15.6 674.9,15.7 674.9,15.8 677.0,15.6" stroke="#4C72B0"/>
<path d="M402.8,292.5 402.8,290.5 403.0,290.6 403.0,288.9 403.2,288.9 403.2,286.8 403.3,286.4 403.3,284.6 403.5,284.8 403.5,282.6 403.7,282.8 403.7,280.6 403.9,280.6 403.9,278.8 404.1,279.0 404.1,276.9 404.2,276.9 404.2,274.9 404.4,275.0 404.4,273.0 404.6,273.0 404.6,271.3 404.8,271.3 404.8,269.1 405.0,268.9 405.0,267.4 405.2,267.0 405.2,265.0 405.4,265.0 405.4,263.0 405.6,263.5 405.6,261.5 405.8,261.2 405.8,259.4 406.0,259.1 406.0,257.5 406.1,257.5 406.1,255.6 406.3,255.5 406.3,253.7 406.5,253.3 406.5,251.7 406.7,251.6 406.7,249.9 406.9,249.9 406.9,247.9 407.1,247.4 407.1,245.8 407.3,245.9 407.3,243.7 407.5,243.8 407.5,241.6 407.8,241.6 407.8,240.0 408.0,239.9 408.0,237.9 408.3,237.7 408.3,235.7 408.6,235.6 408.6,234.1 408.8,234.0 408.8,231.8 409.1,232.1 409.1,229.9 409.3,229.7 409.3,227.6 409.6,228.0 409.6,226.1 409.9,226.2 409.9,223.6 410.1,224.1 410.1,222.2 410.4,221.9 410.4,220.0 410.7,220.0 410.7,218.2 411.1,218.1 411.1,215.7 411.4,215.7 411.4,213.9 411.7,213.8 411.7,211.9 412.1,211.7 412.1,210.1 412.4,210.0 412.4,207.9 412.8,207.7 412.8,205.9 413.1,205.8 413.1,204.0 413.4,204.0 413.4,202.2 413.8,201.7 413.8,199.7 414.1,200.0 414.1,198.1 414.4,198.2 414.4,195.8 414.7,196.0 414.7,193.5 414.9,193.7 414.9,191.7 415.2,191.7 415.2,189.4 415.5,189.7 415.5,188.1 415.9,188.0 415.9,186.1 416.4,185.7 416.4,184.3 416.8,183.9 416.8,182.1 417.2,182.2 417.2,180.3 417.6,180.1 417.6,178.4 418.1,178.3 418.1,176.2 418.5,176.5 418.5,174.6 419.0,174.7 419.0,172.9 419.5,173.0 419.5,170.7 420.0,170.6 420.0,169.2 420.6,169.0 420.6,167.1 421.1,167.4 421.1,165.1 421.6,165.2 421.6,163.7 422.1,163.4 422.1,161.7 422.6,161.7 422.6,159.6 423.2,159.5 423.2,157.7 423.7,158.0 423.7,156.2 424.2,155.8 424.2,153.9 424.7,154.3 424.7,152.3 425.3,152.3 425.3,150.5 425.8,150.3 425.8,148.3 426.4,148.6 426.4,146.2 427.0,146.2 427.0,144.5 427.6,144.5 427.6,142.3 428.2,142.7 428.2,140.4 428.8,140.5 428.8,138.5 429.4,138.6 429.4,136.4 430.1,136.5 430.1,134.6 430.9,134.5 430.9,132.8 431.6,132.5 431.6,131.1 432.3,130.7 432.3,128.7 433.1,129.0 433.1,127.0 433.8,126.9 433.8,125.2 434.6,124.8 434.6,123.1 435.5,122.8 435.5,120.8 436.4,121.1 436.4,119.2 437.2,118.8 437.2,117.4 438.0,117.3 438.0,115.0 438.9,115.2 438.9,112.9 439.8,112.9 439.8,111.1 440.6,111.3 440.6,109.0 441.5,109.0 441.5,107.3 442.1,107.0 442.1,105.2 442.6,105.4 442.6,103.6 443.2,103.5 443.2,101.5 443.8,101.7 443.8,99.6 444.4,100.1 444.4,97.7 444.9,98.2 444.9,96.3 445.5,96.1 445.5,94.1 446.6,94.2 446.6,92.4 447.7,92.7 447.7,90.6 448.8,90.8 448.8,88.9 449.9,88.8 449.9,87.6 451.1,87.1 451.1,85.7 452.3,85.7 452.3,84.6 453.5,84.7 453.5,83.1 454.8,83.2 454.8,81.7 456.0,81.4 456.0,80.0 457.2,80.1 457.2,79.2 459.1,79.3 459.1,77.9 461.1,78.2 461.1,77.4 463.0,77.2 463.0,75.5 464.3,75.8 464.3,74.2 465.5,74.0 465.5,72.7 466.8,73.0 466.8,71.5 468.0,71.3 468.0,70.1 469.3,69.8 469.3,68.2 470.5,68.6 470.5,66.8 471.8,66.9 471.8,65.4 473.2,65.2 473.2,64.0 474.7,63.8 474.7,62.5 476.1,62.8 476.1,61.3 477.6,60.9 477.6,59.6 479.1,59.9 479.1,58.4 480.5,58.2 480.5,56.7 482.0,56.4 482.0,55.1 483.5,55.3 483.5,53.9 485.0,53.8 489.4,53.1 489.4,51.9 490.8,51.5 490.8,50.1 492.3,50.1 492.3,48.9 493.8,48.8 493.8,47.3 495.2,47.2 499.6,47.2 499.6,45.9 501.1,46.2 501.1,44.9 502.5,45.0 502.5,43.9 504.0,43.8 504.0,42.4 505.4,42.8 505.4,41.6 506.9,41.4 506.9,40.6 508.6,40.1 508.6,39.4 510.3,39.4 510.3,38.0 512.0,38.2 512.0,36.8 513.7,37.2 513.7,35.8 515.4,35.8 515.4,34.8 517.1,34.8 517.1,34.1 519.0,34.3 519.0,33.3 521.0,33.2 521.0,32.5 523.0,32.8 523.0,32.1 524.9,32.0 524.9,31.4 526.8,31.1 526.8,30.6 528.8,30.4 528.8,29.9 530.8,30.1 530.8,29.4 532.7,29.5 532.7,29.0 534.6,29.2 534.6,29.1 536.6,29.2 536.6,28.3 538.5,28.6 538.5,28.4 540.5,28.2 540.5,28.1 542.4,28.1 542.4,27.7 544.2,27.5 544.2,27.0 546.1,27.1 546.1,27.2 548.0,27.2 548.0,26.9 549.9,26.9 549.9,26.1 551.7,26.5 551.7,26.0 553.6,26.1 553.6,25.8 555.5,26.0 555.5,25.7 557.4,25.4 557.4,25.1 559.3,25.4 559.3,25.0 561.1,24.9 561.1,24.5 563.0,24.5 563.0,24.4 564.9,24.3 564.9,24.1 566.8,23.9 566.8,23.8 568.7,23.4 568.7,22.9 570.5,23.1 570.5,22.6 572.4,23.0 572.4,22.3 574.3,22.2 574.3,22.2 576.2,22.1 576.2,22.0 578.0,22.0 578.0,21.4 579.9,21.4 585.0,21.0 585.0,20.8 586.9,21.0 586.9,20.7 588.8,20.8 588.8,20.6 590.6,20.4 590.6,20.4 592.5,20.2 592.5,20.1 594.4,20.1 594.4,20.0 596.3,20.0 596.3,19.5 598.1,19.5 598.1,19.3 600.0,19.3 600.0,18.9 601.9,19.1 601.9,19.0 603.9,18.7 603.9,18.6 605.9,18.6 605.9,18.4 607.9,18.4 607.9,18.7 609.9,18.5 609.9,18.4 611.9,18.1 611.9,18.1 613.8,17.9 613.8,18.1 615.8,17.8 615.8,17.7 617.8,17.9 617.8,17.5 619.8,17.6 619.8,17.7 621.8,17.7 621.8,17.3 623.8,17.3 623.8,17.5 625.7,17.1 625.7,17.0 627.7,17.2 627.7,17.4 629.6,17.4 629.6,16.8 631.6,17.2 631.6,16.8 633.5,17.2 633.5,16.8 635.5,17.1 635.5,16.8 637.4,17.1 637.4,16.7 639.4,16.5 639.4,16.9 641.3,16.8 641.3,16.8 643.3,17.0 643.3,16.7 645.2,16.7 645.2,16.5 647.2,16.8 647.2,16.8 649.1,16.6 649.1,16.6 651.1,16.5 651.1,16.3 653.0,16.4 677.0,15.6" stroke="#55A868"/>
<path d="M402.8,292.5 402.8,290.3 402.9,290.8 402.9,288.3 403.0,288.6 403.0,286.5 403.1,286.8 403.1,284.8 403.2,284.3 403.2,282.8 403.3,282.5 403.3,280.7 403.4,280.8 403.4,278.4 403.5,278.4 403.5,276.4 403.6,276.9 403.6,274.7 403.6,274.6 403.6,272.6 403.7,272.7 403.7,271.0 403.8,271.0 403.8,268.8 403.9,268.7 403.9,266.6 404.0,266.5 404.0,265.0 404.1,265.1 404.1,262.6 404.2,263.0 404.2,260.7 404.3,260.8 404.3,259.1 404.4,258.9 404.4,257.0 404.5,256.9 404.5,254.9 404.6,254.8 404.6,253.0 404.7,252.7 404.7,250.7 404.8,250.8 404.8,248.9 404.9,248.7 404.9,247.0 405.0,247.0 405.0,245.3 405.1,244.7 405.1,243.2 405.1,243.1 405.1,241.2 405.2,241.2 405.2,239.0 405.3,239.0 405.3,237.3 405.4,237.2 405.4,235.3 405.5,235.1 405.5,233.1 405.6,233.4 405.6,231.3 405.7,231.2 405.7,229.3 405.8,229.2 405.8,227.5 405.9,227.1 405.9,225.2 406.0,225.2 406.0,223.1 406.1,223.2 406.1,221.2 406.3,221.3 406.3,219.1 406.4,219.1 406.4,217.2 406.5,217.2 406.5,215.2 406.6,215.2 406.6,212.9 406.7,212.9 406.7,211.0 406.9,211.1 406.9,209.3 407.0,209.0 407.0,206.8 407.1,206.9 407.1,205.3 407.2,205.0 407.2,202.8 407.2,203.0 407.2,201.2 407.3,201.0 407.3,199.1 407.3,198.8 407.3,197.1 407.4,197.3 407.4,195.1 407.4,195.3 407.4,192.9 407.5,193.2 407.5,191.1 407.5,190.9 407.5,189.0 407.6,189.1 407.6,187.1 407.6,187.1 407.6,185.3 407.7,185.3 407.7,183.0 407.7,183.1 407.7,181.5 407.8,181.0 407.8,179.4 407.8,179.4 407.8,177.2 407.9,177.4 407.9,175.3 407.9,175.5 407.9,173.2 408.0,173.6 408.0,171.3 408.0,171.2 408.0,169.2 408.1,169.2 408.1,167.3 408.1,167.1 408.1,165.2 408.2,165.2 408.2,163.5 408.2,163.4 408.7,134.2 408.7,132.2 408.8,131.9 408.8,130.2 408.8,130.0 408.8,128.2 408.9,127.9 408.9,126.1 409.0,125.9 409.0,124.4 409.0,123.8 409.0,121.9 409.1,122.3 409.1,120.2 409.2,119.8 409.2,118.1 409.2,118.3 409.2,116.1 409.3,115.9 409.3,114.1 409.4,114.1 409.4,111.8 409.4,112.3 409.4,109.8 409.5,110.0 409.5,107.9 409.6,107.8 409.6,106.4 409.7,106.0 409.7,104.1 409.8,104.5 409.8,102.5 409.9,102.4 409.9,100.2 410.1,100.3 410.1,98.5 410.2,98.7 410.2,96.6 410.3,96.5 410.3,94.7 410.4,94.7 410.4,92.6 410.9,92.8 410.9,90.7 411.4,90.7 411.4,89.1 411.9,88.8 411.9,86.9 412.4,87.1 412.4,85.0 412.9,84.7 412.9,82.9 413.4,83.0 413.4,81.1 414.0,81.3 414.0,79.5 414.6,79.5 414.6,77.6 415.2,77.5 415.2,75.5 415.9,75.6 415.9,73.8 416.5,73.4 416.5,71.6 417.1,71.8 417.1,70.0 417.7,69.9 417.7,67.7 418.4,67.7 418.4,66.3 419.2,66.2 419.2,64.1 419.9,63.9 419.9,62.0 420.6,62.2 420.6,60.3 421.4,60.2 421.4,58.2 422.1,58.2 422.1,56.6 423.2,56.6 423.2,55.0 424.3,55.2 424.3,53.7 425.4,53.3 425.4,52.0 426.5,51.7 426.5,50.2 427.6,50.1 427.6,48.7 428.7,48.7 428.7,47.0 429.4,46.8 429.4,44.7 430.1,45.1 430.1,43.0 430.9,42.9 430.9,41.1 431.6,41.2 431.6,39.5 432.3,39.2 432.3,37.6 433.3,37.7 433.3,35.9 434.3,35.9 434.3,34.3 435.3,34.1 435.3,33.0 437.2,32.8 437.2,31.9 439.2,31.7 439.2,30.7 441.1,30.4 441.1,29.5 442.9,29.5 442.9,28.5 444.8,28.3 444.8,27.0 446.6,27.0 446.6,26.1 448.4,26.1 448.4,25.5 450.2,25.2 450.2,24.7 451.9,25.0 451.9,24.1 453.7,24.4 453.7,23.6 455.4,23.5 455.4,23.3 457.2,23.1 457.2,22.3 459.4,22.3 459.4,22.0 461.5,22.1 461.5,21.4 463.7,21.4 463.7,21.0 465.9,21.0 465.9,20.5 467.8,21.0 467.8,20.5 469.8,20.5 469.8,19.8 471.8,19.8 471.8,19.6 473.7,20.0 473.7,19.4 475.7,19.5 475.7,19.1 477.6,19.1 477.6,18.7 479.7,19.0 479.7,18.6 481.7,18.5 481.7,18.7 483.8,18.4 483.8,18.5 485.9,18.1 485.9,18.2 487.9,18.2 487.9,18.0 490.0,18.0 499.6,17.3 528.8,16.6 528.8,16.3 530.7,16.6 530.7,16.1 532.7,16.3 532.7,16.2 534.6,16.6 534.6,16.2 536.6,16.2 536.6,15.8 538.5,16.2 538.5,16.3 540.5,16.2 540.5,15.7 542.4,16.2 542.4,15.7 544.4,15.9 544.4,15.8 546.3,15.7 677.0,15.6" stroke="#C44E52"/>
<path d="M402.8,292.5 402.8,290.7 402.9,290.6 402.9,288.6 403.0,288.5 403.0,286.5 403.1,286.7 403.1,284.8 403.2,284.3 403.2,282.4 403.3,282.4 403.3,280.6 403.4,280.7 403.4,278.4 403.5,278.4 403.5,276.8 403.6,276.4 403.6,274.9 403.6,274.4 403.6,272.8 403.7,272.9 403.7,270.7 403.8,270.9 403.8,268.9 403.9,268.8 403.9,266.7 404.0,266.8 404.0,265.0 404.1,264.9 404.1,262.6 404.2,263.1 404.2,260.9 404.3,260.6 404.3,259.0 404.4,259.0 404.4,256.6 404.5,256.9 404.5,254.6 404.6,254.9 404.6,252.8 404.7,252.8 404.7,251.0 404.8,251.1 404.8,248.7 404.9,249.2 404.9,246.9 405.0,246.7 405.0,245.0 405.1,244.9 405.1,243.3 405.1,243.0 405.1,241.3 405.2,241.3 405.2,239.1 405.3,239.3 405.3,237.4 405.4,236.8 405.4,235.0 405.5,235.4 405.5,233.2 405.6,233.3 405.6,231.4 405.7,231.2 405.7,229.3 405.8,229.2 406.4,205.0 406.4,203.0 406.5,202.7 406.5,201.2 406.6,201.2 406.6,199.3 406.7,198.9 406.7,197.4 406.8,197.4 406.8,195.3 406.9,194.9 406.9,193.1 407.1,193.0 407.1,191.5 407.2,191.0 407.2,189.0 407.3,189.1 407.3,187.0 407.4,187.2 407.4,185.3 407.5,185.3 407.5,183.3 407.7,183.5 407.7,181.6 407.9,181.5 407.9,179.0 408.1,179.4 408.1,177.2 408.3,177.1 408.3,175.1 408.5,175.6 408.5,173.4 408.7,173.6 408.7,171.3 408.9,171.4 408.9,169.2 409.1,169.6 409.1,167.6 409.3,167.2 409.3,165.1 409.5,165.1 409.5,163.4 409.7,163.4 409.7,161.7 409.9,161.1 409.9,159.3 410.1,159.3 410.1,157.6 410.3,157.5 410.3,155.5 410.5,155.7 410.5,153.2 410.7,153.4 410.7,151.6 410.9,151.7 410.9,149.4 411.1,149.5 411.1,147.6 411.3,147.3 411.3,145.6 411.5,145.3 411.5,143.8 411.7,143.2 411.7,141.3 411.9,141.5 411.9,139.8 412.2,139.8 412.2,137.5 412.5,137.4 412.5,135.9 412.8,135.9 412.8,133.9 413.1,133.9 413.1,131.8 413.4,131.7 413.4,130.2 413.6,130.3 413.6,128.0 413.9,128.0 413.9,126.2 414.2,126.4 414.2,124.3 414.5,124.3 414.5,122.3 414.8,122.5 414.8,120.5 415.2,120.7 415.2,118.5 415.6,118.3 415.6,116.2 416.0,116.2 416.0,114.5 416.3,114.1 416.3,112.2 416.7,112.1 416.7,110.1 417.1,110.3 417.1,107.7 417.5,108.0 417.5,106.3 417.8,105.8 417.8,104.3 418.1,103.8 418.1,102.3 418.4,102.2 418.4,100.1 418.6,99.8 418.6,98.2 418.9,98.3 418.9,95.9 419.2,96.1 419.2,94.1 419.6,94.1 419.6,92.5 420.0,92.6 420.0,90.2 420.4,90.4 420.4,88.5 420.9,88.4 420.9,86.9 421.3,86.6 421.3,84.7 421.7,84.8 421.7,82.8 422.1,83.0 422.1,80.8 423.0,80.8 423.0,79.1 423.8,79.3 423.8,77.3 424.6,77.4 424.6,75.2 425.5,75.2 425.5,73.0 426.4,73.5 426.4,71.0 427.2,71.3 427.2,69.6 428.5,69.5 428.5,67.7 429.8,67.8 429.8,65.8 431.0,65.9 431.0,63.9 432.3,64.0 432.3,62.2 433.0,61.8 433.0,59.9 433.8,60.4 433.8,57.9 434.5,57.9 434.5,56.2 435.2,56.3 435.2,54.0 436.0,54.2 436.0,52.2 436.7,52.3 436.7,50.8 438.2,51.1 438.2,49.7 439.6,49.6 439.6,47.7 441.1,48.1 441.1,46.8 442.6,46.5 442.6,45.2 444.1,45.1 444.1,43.5 445.5,43.5 445.5,42.3 447.0,42.4 447.0,40.7 448.4,40.6 448.4,39.1 449.9,39.2 449.9,38.1 451.4,37.7 451.4,36.8 452.8,36.3 452.8,35.5 454.3,34.9 454.3,33.7 455.7,34.1 455.7,32.7 457.2,32.6 457.2,31.3 459.0,31.6 459.0,30.5 460.9,30.6 460.9,29.5 462.7,29.1 462.7,27.9 464.5,28.2 464.5,27.6 466.2,27.4 466.2,27.2 468.0,26.8 468.0,26.3 469.7,26.6 469.7,25.7 471.5,26.0 471.5,25.1 473.2,25.3 473.2,24.8 475.0,24.4 475.0,23.7 476.7,23.6 476.7,23.2 478.5,23.4 478.5,22.4 480.2,22.6 480.2,21.9 482.0,21.7 482.0,21.0 484.0,21.3 484.0,20.3 486.0,20.8 486.0,20.3 488.0,20.2 488.0,19.4 490.0,19.5 490.0,19.2 491.9,19.5 491.9,18.8 493.8,19.2 493.8,18.5 495.8,18.6 495.8,18.3 497.7,18.4 497.7,17.8 499.6,18.0 499.6,18.0 501.7,17.8 501.7,17.6 503.8,18.0 503.8,17.4 505.9,17.8 505.9,17.3 507.9,17.5 507.9,17.1 510.0,17.0 510.0,17.3 512.1,17.2 512.1,17.3 514.2,17.0 514.2,17.0 516.2,16.7 516.2,16.7 518.2,16.8 518.2,17.0 520.2,16.5 520.2,16.4 522.2,16.5 522.2,16.4 524.2,16.7 524.2,16.3 526.2,16.4 526.2,16.4 528.2,16.5 528.2,16.3 530.2,16.2 530.2,16.1 532.3,16.6 532.3,16.1 534.3,16.4 534.3,16.0 536.3,16.0 536.3,16.1 538.3,15.9 538.3,15.8 540.3,15.7 540.3,15.9 542.3,16.1 542.3,16.0 544.3,16.0 544.3,16.0 546.3,15.7 677.0,15.6" stroke="#8172B2"/>
<path d="M402.8,292.5 403.1,243.8 403.4,205.0 403.4,203.0 403.5,203.1 403.5,201.3 403.5,201.3 403.5,199.1 403.6,199.3 403.6,197.0 403.6,197.2 403.6,195.0 403.7,194.8 403.7,193.2 403.7,193.0 403.7,191.4 403.8,190.9 403.8,188.9 403.9,189.1 403.9,187.3 403.9,187.2 403.9,185.4 404.0,185.2 404.0,183.1 404.0,183.4 404.0,181.2 404.1,181.0 404.1,179.5 404.1,179.5 404.1,177.2 404.2,177.3 404.2,175.1 404.3,175.2 404.3,173.3 404.3,173.2 404.3,171.4 404.4,171.3 404.4,169.4 404.4,169.5 404.4,167.1 404.5,167.4 404.5,165.6 404.5,165.6 404.5,163.6 404.6,163.4 404.6,161.7 404.7,161.5 404.7,159.4 404.8,159.3 404.8,157.5 404.9,157.8 404.9,155.4 405.0,155.7 405.0,153.9 405.1,153.9 405.1,151.7 405.2,151.6 405.2,149.8 405.3,149.5 405.3,147.6 405.4,147.7 405.4,146.1 405.5,145.8 405.5,143.8 405.6,144.2 405.6,142.0 405.7,142.2 405.7,140.2 405.8,140.2 405.8,138.0 405.9,137.9 405.9,136.2 406.0,135.9 406.0,133.9 406.1,134.2 406.1,132.1 406.2,132.3 406.2,130.2 406.4,130.1 406.4,128.6 406.6,128.1 406.6,126.2 406.7,126.6 406.7,124.3 406.9,124.5 406.9,122.6 407.0,122.7 407.0,120.4 407.1,120.3 407.1,118.8 407.3,118.7 407.3,116.7 407.4,116.6 407.4,114.6 407.6,115.0 407.6,112.9 407.8,112.5 407.8,110.7 407.9,110.6 407.9,109.1 408.1,109.0 408.1,107.0 408.2,107.0 408.2,104.9 408.5,105.3 408.5,103.1 408.8,103.1 408.8,101.1 409.1,101.2 409.1,99.4 409.4,99.6 409.4,97.9 409.7,97.6 409.7,95.4 410.0,95.8 410.0,93.6 410.3,93.3 410.3,91.4 410.6,91.3 410.6,89.4 411.0,89.4 411.0,87.0 411.3,87.3 411.3,85.0 411.6,85.0 411.6,82.9 411.9,83.0 411.9,81.1 412.2,81.3 412.2,79.4 412.5,79.1 412.5,77.1 412.8,77.1 412.8,75.8 413.2,75.7 413.2,73.4 413.5,73.9 413.5,72.0 413.8,71.9 413.8,69.9 414.1,69.9 414.1,67.7 414.5,67.7 414.5,65.5 415.0,65.8 415.0,63.6 415.4,63.6 415.4,61.5 415.9,61.7 415.9,59.7 416.3,59.6 416.3,57.6 416.9,57.8 416.9,55.7 417.4,55.7 417.4,54.1 417.9,54.0 417.9,52.4 418.5,52.3 418.5,50.3 419.9,50.6 419.9,48.6 421.4,48.7 421.4,47.6 422.9,47.4 422.9,46.4 424.3,46.0 424.3,44.9 425.8,45.0 425.8,43.2 427.0,43.0 427.0,41.8 428.2,41.8 428.2,39.9 429.4,39.9 429.4,37.9 430.6,38.0 430.6,36.4 431.9,36.6 431.9,34.9 433.1,34.8 433.1,33.4 434.8,33.4 434.8,31.7 436.5,31.9 436.5,30.5 438.2,30.4 438.2,29.1 439.6,29.5 439.6,28.3 441.1,28.2 441.1,26.9 442.6,27.1 442.6,26.0 444.0,26.1 444.0,25.1 445.8,24.9 445.8,24.1 447.6,24.0 447.6,23.6 449.5,23.5 449.5,22.3 451.3,22.4 451.3,21.8 453.1,21.7 453.1,20.9 454.8,21.1 454.8,20.9 456.6,20.5 456.6,20.3 458.3,20.3 458.3,19.4 460.1,19.5 460.1,19.2 462.1,18.9 462.1,18.5 464.2,18.5 464.2,18.1 466.2,18.6 466.2,17.7 468.3,17.9 468.3,17.4 470.3,17.6 470.3,17.6 472.3,17.4 472.3,17.3 474.4,17.3 474.4,16.7 476.4,16.9 476.4,16.5 478.5,16.5 478.5,16.4 480.5,16.6 480.5,16.7 482.4,16.7 482.4,16.1 484.3,16.2 484.3,15.8 486.2,16.2 486.2,16.1 488.1,16.1 488.1,15.7 490.0,15.7 677.0,15.6" stroke="#CCB974"/>
<path d="M402.8,292.5 402.8,290.2 402.9,290.6 402.9,288.7 403.1,288.6 403.1,286.4 403.2,286.7 403.2,284.1 403.4,284.4 403.4,282.6 403.5,282.4 403.5,280.5 403.6,280.6 403.6,278.5 403.8,278.2 403.8,276.3 403.9,276.1 403.9,274.1 404.0,274.1 404.0,272.3 404.2,272.1 404.2,270.3 404.3,269.9 404.3,268.3 404.5,268.0 404.5,266.3 404.6,266.1 404.6,264.4 404.7,264.2 404.7,261.8 404.9,261.8 404.9,260.1 405.0,260.1 405.0,258.0 405.1,258.0 405.1,255.9 405.3,256.2 405.3,254.2 405.4,253.9 405.4,251.7 405.6,252.0 405.6,250.1 405.7,249.9 405.7,247.7 405.8,247.7 405.8,246.1 406.0,245.8 406.0,243.7 406.1,243.8 406.1,241.5 406.4,242.1 406.4,239.6 406.6,239.6 406.6,237.8 406.9,238.0 406.9,235.8 407.2,236.1 407.2,233.7 407.4,234.1 407.4,232.0 407.7,231.6 407.7,230.0 407.9,229.7 407.9,228.1 408.2,228.0 408.2,226.1 408.5,225.7 408.5,224.0 408.7,224.0 408.7,222.1 409.0,221.9 409.0,220.1 409.3,219.9 409.3,218.0 409.5,217.6 409.5,215.8 409.8,215.8 409.8,214.1 410.1,213.7 410.1,212.1 410.3,211.7 410.3,209.9 410.6,210.1 410.6,208.1 410.8,208.0 410.8,205.8 411.1,205.7 411.1,203.8 411.4,203.8 411.4,201.7 411.6,202.0 411.6,200.1 411.9,200.0 412.6,189.7 412.6,187.8 412.9,187.8 412.9,185.5 413.2,185.8 413.2,183.2 413.5,183.7 413.5,181.4 413.9,181.1 413.9,179.5 414.2,179.6 414.2,177.4 414.5,176.9 414.5,175.3 414.8,175.1 414.8,173.0 415.4,173.3 415.4,171.3 416.0,171.0 416.0,169.0 416.6,169.0 416.6,167.1 417.3,167.5 417.3,165.5 417.9,165.6 417.9,163.6 418.5,163.4 418.5,161.4 418.9,161.4 418.9,159.8 419.4,159.7 419.4,158.0 419.9,158.0 419.9,156.1 420.3,156.0 420.3,154.6 420.8,154.5 420.8,152.7 421.2,152.2 421.2,150.9 421.7,150.9 421.7,148.8 422.1,148.8 422.1,146.7 422.7,147.1 422.7,145.3 423.4,144.9 423.4,143.3 424.0,143.5 424.0,141.2 424.6,141.6 424.6,139.5 425.3,139.7 425.3,137.8 425.9,137.6 425.9,136.2 426.6,136.3 426.6,134.4 427.2,134.2 427.2,132.2 427.9,132.0 427.9,130.2 428.7,130.4 428.7,128.6 429.4,128.6 429.4,126.3 430.1,126.2 430.1,124.7 430.9,124.6 430.9,122.6 431.6,122.5 431.6,120.6 432.7,120.7 432.7,118.9 433.8,118.9 433.8,117.6 434.9,117.7 434.9,115.7 436.0,115.9 436.0,114.2 437.1,113.8 437.1,112.0 438.2,112.3 438.2,110.4 439.1,110.4 439.1,108.8 440.1,108.6 440.1,106.8 441.0,107.0 441.0,105.2 441.6,104.9 441.6,103.2 442.2,103.1 442.2,101.4 442.8,101.3 442.8,99.3 443.4,99.3 443.4,97.6 444.0,97.6 444.0,95.8 444.9,95.6 444.9,94.3 445.8,94.2 445.8,92.3 446.6,92.3 446.6,90.6 447.5,90.3 447.5,88.9 448.4,88.8 448.4,86.6 449.4,86.6 449.4,85.2 450.3,84.8 450.3,83.1 451.3,83.1 451.3,81.0 452.3,81.3 452.3,79.1 453.2,79.0 453.2,77.4 454.2,77.2 454.2,75.7 455.4,75.8 455.4,74.2 456.6,74.1 456.6,72.8 457.7,72.8 457.7,71.5 458.9,71.2 458.9,70.1 460.1,69.9 460.1,68.9 461.6,68.6 461.6,67.1 463.0,67.7 463.0,66.1 464.5,66.1 464.5,64.7 465.9,64.9 465.9,63.6 467.4,63.4 467.4,62.6 468.8,62.3 468.8,60.9 470.3,61.1 470.3,59.6 472.0,60.2 472.0,58.7 473.7,58.4 473.7,57.3 475.4,57.7 475.4,56.0 477.1,56.4 477.1,55.1 478.8,55.1 478.8,53.6 480.5,53.8 480.5,53.0 482.0,52.6 482.0,51.9 483.5,51.9 483.5,50.9 485.0,50.9 485.0,50.0 486.7,50.0 486.7,49.1 488.3,49.1 488.3,48.2 490.0,48.3 490.0,47.0 491.3,47.1 491.3,45.9 492.5,46.2 492.5,44.7 493.8,45.0 493.8,44.1 495.5,43.7 495.5,42.6 497.2,42.3 497.2,41.4 498.9,41.1 498.9,40.4 500.6,40.3 500.6,38.9 502.3,39.0 502.3,37.5 504.0,37.7 504.0,37.2 506.0,37.1 506.0,36.3 508.1,36.1 508.1,35.5 510.1,35.7 510.1,34.6 512.2,34.9 512.2,34.3 514.2,34.1 514.2,33.8 516.2,33.4 516.2,33.0 518.3,33.0 518.3,32.3 520.3,32.3 520.3,31.9 522.4,31.6 522.4,31.2 524.4,31.2 524.4,30.7 526.4,30.7 526.4,30.2 528.3,30.1 528.3,29.6 530.2,29.9 530.2,28.9 532.2,29.4 532.2,28.5 534.1,28.5 534.1,28.2 536.1,28.2 536.1,28.1 538.2,27.6 538.2,27.4 540.3,27.6 540.3,27.2 542.4,26.7 542.4,26.7 544.4,26.4 544.4,26.0 546.5,26.1 546.5,26.0 548.6,25.7 548.6,25.3 550.7,25.3 550.7,24.8 552.7,25.2 552.7,24.5 554.7,24.9 554.7,24.2 556.7,24.6 556.7,24.3 558.8,24.3 558.8,23.8 560.8,24.1 560.8,23.7 562.8,23.8 562.8,23.6 564.8,23.5 564.8,23.1 566.8,23.1 566.8,23.1 568.8,22.7 568.8,22.3 570.8,22.4 570.8,22.6 572.9,22.3 572.9,22.2 574.9,22.4 574.9,21.8 576.9,21.8 576.9,21.5 578.9,21.6 578.9,21.6 581.0,21.3 581.0,21.1 583.0,21.2 583.0,20.8 585.0,21.0 585.0,20.9 586.9,21.1 586.9,20.7 588.8,20.6 588.8,20.1 590.6,20.2 590.6,20.4 592.5,20.4 592.5,20.0 594.4,20.0 594.4,20.0 596.3,19.6 596.3,19.6 598.1,19.6 598.1,19.1 600.0,19.1 600.0,19.4 601.9,19.1 601.9,18.7 603.9,18.8 603.9,19.0 605.9,18.9 605.9,18.4 607.9,18.8 607.9,18.6 609.9,18.5 609.9,18.2 611.9,18.4 611.9,18.2 613.8,18.4 613.8,18.2 615.8,17.7 615.8,18.0 617.8,17.7 617.8,17.4 619.8,17.8 619.8,17.6 621.8,17.7 621.8,17.3 623.8,17.3 623.8,17.5 625.7,17.0 625.7,17.3 627.7,17.3 627.7,17.0 629.6,17.0 629.6,17.0 631.6,16.9 631.6,16.9 633.5,17.1 633.5,17.2 635.5,16.7 635.5,16.9 637.4,16.7 637.4,16.6 639.4,17.0 639.4,16.6 641.3,16.5 641.3,16.7 643.3,16.8 643.3,16.6 645.2,16.8 645.2,16.3 647.2,16.3 647.2,16.7 649.1,16.7 649.1,16.5 651.1,16.3 651.1,16.5 653.0,16.4 677.0,15.6" stroke="#64B5CD"/>
<path d="M402.8,292.5 402.8,290.2 403.0,290.5 403.0,288.5 403.2,288.1 403.2,286.0 403.5,286.0 403.5,283.7 403.7,283.8 403.7,282.1 403.9,281.8 403.9,280.0 404.1,279.9 404.1,278.1 404.3,277.8 404.3,275.8 404.4,276.1 404.4,273.7 404.6,273.7 404.6,272.0 404.8,271.9 404.8,269.9 405.0,270.2 405.0,267.9 405.2,268.2 405.2,266.2 405.4,266.5 405.4,264.0 405.6,264.5 405.6,262.1 405.7,262.4 405.7,260.4 405.9,260.2 405.9,258.5 406.1,258.4 406.1,256.6 406.3,256.6 406.3,254.7 406.6,254.5 406.6,252.6 406.8,252.7 406.8,250.7 407.0,250.8 407.0,248.6 407.3,248.4 407.3,246.8 407.5,246.6 407.5,244.8 407.7,245.0 407.7,242.9 408.0,243.0 408.0,241.0 408.2,240.9 408.2,239.2 408.8,239.1 408.8,237.0 409.4,237.3 409.4,234.8 410.0,235.0 410.0,232.8 410.7,233.1 410.7,231.3 411.3,231.1 411.3,229.2 411.9,229.2 411.9,227.4 412.4,227.2 412.4,225.5 412.9,225.2 412.9,223.6 413.4,223.4 413.4,222.0 414.0,221.8 414.0,219.9 414.5,220.0 414.5,217.9 415.0,218.2 415.0,215.9 415.5,216.1 415.5,214.2 416.1,214.1 416.1,212.5 416.7,212.3 416.7,210.6 417.4,210.3 417.4,209.0 418.0,208.7 418.0,206.9 418.6,206.7 418.6,204.8 419.2,205.0 419.2,203.3 419.8,203.4 419.8,201.2 420.5,201.4 420.5,199.9 421.1,199.6 421.1,197.7 421.7,198.2 421.7,196.3 422.3,196.2 422.3,194.1 423.0,194.1 423.0,192.4 423.6,192.6 423.6,190.7 424.3,190.7 424.3,189.1 425.0,189.1 425.0,187.5 425.8,187.1 425.8,185.8 426.5,185.3 426.5,183.6 427.2,183.8 427.2,182.0 427.9,182.0 427.9,180.1 428.6,180.3 428.6,178.4 429.4,178.1 429.4,176.3 430.1,176.5 430.1,174.9 430.9,175.0 430.9,172.8 431.6,172.7 431.6,170.9 432.4,171.3 432.4,169.0 433.1,169.2 433.1,167.5 434.1,167.3 434.1,165.5 435.0,165.1 435.0,163.7 436.0,163.4 436.0,161.2 437.2,161.3 437.2,159.5 438.4,159.8 438.4,157.8 439.6,157.6 439.6,156.2 440.7,156.2 440.7,154.7 441.8,154.8 441.8,153.3 442.9,153.2 442.9,151.8 444.0,151.7 444.0,150.0 445.5,149.9 445.5,148.1 446.9,148.3 446.9,146.8 448.4,146.6 448.4,145.0 449.5,145.1 449.5,143.6 450.6,143.1 450.6,141.5 451.7,141.7 451.7,140.3 452.8,140.0 452.8,138.8 453.9,138.4 453.9,137.1 455.0,136.9 455.0,135.8 456.1,135.6 456.1,134.4 457.2,134.2 457.2,133.1 459.4,133.0 459.4,132.1 461.5,132.0 461.5,130.4 462.2,130.5 462.2,128.3 463.0,128.4 463.0,127.4 464.5,127.3 464.5,126.4 465.9,126.2 465.9,125.5 467.4,125.4 467.4,124.0 468.9,123.9 468.9,122.6 470.3,122.3 470.3,121.1 471.8,121.1 471.8,120.5 474.0,120.5 474.0,119.3 476.1,119.6 476.1,118.4 477.6,118.3 477.6,116.9 479.1,116.7 479.1,115.5 480.2,115.0 480.2,113.7 481.2,113.9 481.2,112.1 482.3,112.3 482.3,110.7 483.4,110.8 483.4,109.2 484.6,109.2 484.6,107.9 485.8,108.1 485.8,106.5 487.0,106.5 487.0,105.0 488.8,104.9 488.8,103.7 490.5,103.7 490.5,102.1 492.3,102.0 492.3,101.1 493.8,100.8 493.8,99.9 495.2,99.7 495.2,98.7 496.7,98.4 496.7,97.3 498.1,97.2 498.1,96.0 499.6,96.1 499.6,94.7 501.1,94.6 501.1,92.9 502.5,93.4 502.5,91.8 504.0,91.6 504.0,90.1 505.4,90.3 505.4,88.7 506.9,88.8 506.9,86.9 508.4,86.9 508.4,85.3 509.8,85.5 509.8,83.7 511.2,84.1 511.2,82.3 512.7,82.3 516.4,82.3 516.4,81.1 518.0,80.6 518.0,79.2 519.7,79.5 519.7,77.9 521.4,77.9 521.4,76.6 523.0,76.4 523.0,75.2 524.5,75.2 524.5,74.1 525.9,74.0 525.9,72.7 527.4,73.0 527.4,71.6 528.8,71.9 528.8,70.9 530.3,70.6 530.3,69.6 531.8,69.1 531.8,68.0 533.2,68.0 533.2,67.0 534.6,66.5 534.6,65.7 536.1,65.5 536.1,64.3 537.6,64.4 537.6,63.5 539.0,63.3 539.0,62.5 540.5,62.6 540.5,62.3 542.4,62.0 542.4,61.5 544.4,61.7 544.4,60.9 546.3,61.1 546.3,60.2 547.8,60.3 547.8,58.7 549.2,59.2 549.2,57.8 550.7,57.7 550.7,56.5 552.2,56.7 552.2,55.4 553.7,55.6 553.7,54.2 555.1,54.4 555.1,53.3 556.6,53.2 556.6,52.1 558.0,51.8 558.0,51.1 559.5,50.9 559.5,49.7 561.0,49.9 561.0,48.4 562.4,48.6 562.4,47.4 563.9,47.4 563.9,46.2 565.3,46.4 565.3,45.2 566.8,45.0 566.8,44.2 568.5,44.2 568.5,43.8 570.3,44.1 570.3,43.2 572.0,43.0 572.0,42.5 573.8,42.8 573.8,42.2 575.5,42.1 585.8,41.4 585.8,40.5 587.6,40.4 587.6,39.6 589.3,39.9 589.3,38.8 591.1,38.8 591.1,37.9 592.8,37.8 592.8,37.2 594.6,37.0 594.6,36.0 596.4,35.9 596.4,35.5 598.1,35.0 598.1,34.2 599.9,34.4 599.9,33.6 601.6,33.4 601.6,32.5 603.4,32.6 603.4,31.9 605.1,32.0 605.1,31.0 606.9,30.7 606.9,29.9 608.6,29.9 608.6,29.2 610.4,29.1 610.4,28.2 612.1,28.2 612.1,27.9 614.0,27.6 614.0,27.5 616.0,27.2 616.0,26.5 618.0,26.7 618.0,26.2 619.9,26.4 619.9,25.7 621.8,25.7 621.8,25.1 623.8,25.3 623.8,24.9 625.8,25.1 625.8,24.7 627.7,24.6 627.7,24.1 629.6,23.9 629.6,23.9 631.6,24.1 631.6,23.2 633.5,23.3 633.5,23.2 635.5,23.1 635.5,23.1 637.4,22.8 637.4,22.7 639.2,22.8 639.2,22.7 641.1,22.3 641.1,22.4 643.0,22.3 643.0,22.4 644.9,21.9 644.9,22.0 646.7,21.8 646.7,21.9 648.6,21.7 661.0,21.0 661.0,19.5 662.9,19.6 662.9,18.3 664.7,18.5 672.0,18.0 672.0,17.1 673.7,17.2 673.7,16.4 675.3,16.5 675.3,15.4 677.0,15.6" stroke="#FFA500"/>
</g>
<rect x="501.0" y="202.45" width="171.3" height="99.1" rx="2" fill="#fff" fill-opacity="0.8" stroke="#c8c8c8" stroke-width="0.8"/>
<path d="M504.5 209.45H524.3" stroke="#4C72B0" stroke-width="1.0" stroke-opacity="0.68"/>
<text x="532.0" y="212.85" font-size="9.7" fill="#262626">Random forest (AUROC: 0.833)</text>
<path d="M504.5 223.35H524.3" stroke="#55A868" stroke-width="1.0" stroke-opacity="0.68"/>
<text x="532.0" y="226.75" font-size="9.7" fill="#262626">GBM (AUROC: 0.860)</text>
<path d="M504.5 237.25H524.3" stroke="#C44E52" stroke-width="1.0" stroke-opacity="0.68"/>
<text x="532.0" y="240.65" font-size="9.7" fill="#262626">Simple RNN (AUROC: 0.958)</text>
<path d="M504.5 251.15H524.3" stroke="#8172B2" stroke-width="1.0" stroke-opacity="0.68"/>
<text x="532.0" y="254.55" font-size="9.7" fill="#262626">LSTM (AUROC: 0.940)</text>
<path d="M504.5 265.05H524.3" stroke="#CCB974" stroke-width="1.0" stroke-opacity="0.68"/>
<text x="532.0" y="268.45" font-size="9.7" fill="#262626">GRU (AUROC: 0.972)</text>
<path d="M504.5 278.95H524.3" stroke="#64B5CD" stroke-width="1.0" stroke-opacity="0.68"/>
<text x="532.0" y="282.35" font-size="9.7" fill="#262626">Transformer (AUROC: 0.871)</text>
<path d="M504.5 292.85H524.3" stroke="#FFA500" stroke-width="1.0" stroke-opacity="0.68"/>
<text x="532.0" y="296.25" font-size="9.7" fill="#262626">RETAIN (AUROC: 0.755)</text>
<rect x="389" y="15.5" width="287.80" height="291.50" fill="none" stroke="#4a4a4a" stroke-width="1.15"/>
<text x="402.71" y="319.4" font-size="12" fill="#262626" text-anchor="middle">0.0</text>
<text x="385.7" y="297.92" font-size="12" fill="#262626" text-anchor="end">0.0</text>
<text x="457.57" y="319.4" font-size="12" fill="#262626" text-anchor="middle">0.2</text>
<text x="385.7" y="242.40" font-size="12" fill="#262626" text-anchor="end">0.2</text>
<text x="512.43" y="319.4" font-size="12" fill="#262626" text-anchor="middle">0.4</text>
<text x="385.7" y="186.87" font-size="12" fill="#262626" text-anchor="end">0.4</text>
<text x="567.29" y="319.4" font-size="12" fill="#262626" text-anchor="middle">0.6</text>
<text x="385.7" y="131.35" font-size="12" fill="#262626" text-anchor="end">0.6</text>
<text x="622.14" y="319.4" font-size="12" fill="#262626" text-anchor="middle">0.8</text>
<text x="385.7" y="75.82" font-size="12" fill="#262626" text-anchor="end">0.8</text>
<text x="677.00" y="319.4" font-size="12" fill="#262626" text-anchor="middle">1.0</text>
<text x="385.7" y="20.30" font-size="12" fill="#262626" text-anchor="end">1.0</text>
<text x="536.70" y="9.8" font-size="13" fill="#262626" text-anchor="middle">ROC curve of external validation</text>
<text x="533.00" y="336.2" font-size="13" fill="#262626" text-anchor="middle">False Positive Rate</text>
<text x="360.7" y="161.25" font-size="13" fill="#262626" text-anchor="middle" transform="rotate(-90 360.7 161.25)">True Positive Rate</text>
<clipPath id="clipBL"><rect x="38" y="385.5" width="288.5" height="291.5"/></clipPath>
<path d="M51.74 385.5V677M38 663.12H326.5M106.69 385.5V677M38 607.60H326.5M161.64 385.5V677M38 552.07H326.5M216.60 385.5V677M38 496.55H326.5M271.55 385.5V677M38 441.02H326.5M326.50 385.5V677M38 385.50H326.5" stroke="#eeeeee" stroke-width="0.85" fill="none"/>
<g clip-path="url(#clipBL)" fill="none" stroke-width="1.0" stroke-linejoin="miter" stroke-opacity="0.68">
<path d="M50.6,385.5 50.6,630.0 50.6,632.5 51.9,632.5 51.9,635.0 53.1,635.0 53.4,632.0 53.7,629.0 54.0,626.0 54.2,623.0 54.5,620.0 54.8,617.0 55.1,614.0 55.4,611.0 55.6,608.0 55.9,605.0 56.2,602.0 56.5,599.0 56.5,601.8 56.2,601.8 56.2,604.6 55.9,604.6 55.9,607.4 55.6,607.4 55.6,610.2 55.4,610.2 55.4,613.0 55.1,613.0 55.1,615.8 54.8,615.8 55.1,612.8 55.4,609.7 55.7,606.7 56.0,603.7 56.3,600.6 56.6,597.6 56.9,594.6 57.2,591.5 57.5,588.5 57.8,585.5 58.1,582.4 58.4,579.4 58.7,576.4 59.0,573.3 59.3,570.3 59.3,632.8 60.2,632.4 62.5,632.8 65.4,632.8 65.4,634.6 68.4,634.6 71.9,635.2 71.9,640.4 74.2,639.9 74.2,645.1 76.6,643.1 76.6,644.2 78.9,641.5 78.9,642.2 82.4,641.0 82.4,645.1 84.1,645.1 84.1,646.3 87.0,646.3 89.3,644.4 89.3,645.8 91.7,643.1 91.7,643.9 94.3,642.9 94.3,643.8 97.0,642.3 97.0,642.8 97.6,645.1 97.6,647.4 100.5,647.4 103.1,646.4 103.1,647.3 105.7,645.8 105.7,646.3 108.1,644.9 108.1,646.5 110.4,644.6 110.4,645.1 113.5,644.4 113.5,645.8 116.6,644.6 116.6,645.6 119.7,644.6 119.7,645.1 119.7,647.4 120.9,647.4 123.8,646.9 123.8,648.1 126.6,646.7 126.6,648.4 129.5,646.9 129.5,648.3 132.3,647.3 132.3,647.7 135.4,646.9 135.4,648.0 138.4,646.7 138.4,647.6 141.5,646.1 141.5,647.7 144.6,645.8 144.6,647.4 147.6,645.6 147.6,647.2 150.7,645.3 150.7,646.1 153.5,645.4 153.5,646.9 156.4,645.4 156.4,647.1 159.2,645.5 159.2,647.1 162.1,645.9 162.1,646.9 164.9,645.6 164.9,647.3 167.8,645.9 167.8,647.2 170.6,645.8 170.6,646.6 170.6,647.4 173.1,647.4 173.1,648.1 175.7,648.1 175.7,648.9 178.2,648.9 178.2,649.0 181.3,649.0 181.3,649.2 184.3,649.2 184.3,649.3 187.4,649.3 187.4,649.4 190.5,649.4 190.5,649.6 193.5,649.6 193.5,649.7 196.6,649.7 196.6,650.2 199.7,650.2 199.7,650.6 202.8,650.6 202.8,651.1 205.8,651.1 205.8,651.5 208.9,651.5 208.9,652.0 212.0,652.0 215.2,651.5 215.2,652.9 218.5,651.7 218.5,653.0 221.8,651.9 221.8,653.1 225.0,652.1 225.0,652.7 225.0,653.1 228.2,653.1 228.2,653.5 231.4,653.5 231.4,653.9 234.5,653.9 234.5,654.3 237.7,654.3 237.7,654.7 240.9,654.7 240.9,655.0 244.1,655.0 244.1,655.3 247.3,655.3 247.3,655.5 250.5,655.5 250.5,655.8 253.7,655.8 253.7,656.1 256.9,656.1 256.9,656.4 260.1,656.4 260.1,656.6 263.2,656.6 263.2,656.8 266.3,656.8 266.3,657.0 269.4,657.0 269.4,657.2 272.4,657.2 272.4,657.4 275.5,657.4 275.5,657.6 278.6,657.6 278.6,657.8 281.7,657.8 281.7,658.0 284.8,658.0 284.8,658.2 287.9,658.2 287.9,658.4 290.9,658.4 290.9,658.6 294.0,658.6 294.0,658.8 297.1,658.8 297.1,659.0 300.0,659.0 300.0,659.1 303.0,659.1 303.0,659.3 305.9,659.3 305.9,659.4 308.9,659.4 308.9,659.6 311.8,659.6 311.8,659.8 314.7,659.8 314.7,659.9 317.7,659.9 317.7,660.1 320.6,660.1 320.6,660.2 323.6,660.2 323.6,660.4 326.5,660.4" stroke="#4C72B0"/>
<path d="M50.6,385.5 50.6,650.0 51.8,647.8 53.1,645.6 54.3,643.4 56.0,640.5 57.8,637.5 59.0,635.0 62.5,632.4 64.2,630.1 64.2,631.1 66.0,628.2 66.0,628.8 67.8,625.4 68.4,631.2 70.2,628.8 70.2,630.1 71.9,626.8 71.9,627.7 71.9,630.0 74.2,630.0 75.3,626.8 76.5,623.6 78.8,621.3 78.8,623.0 81.2,619.8 81.2,620.7 83.6,620.1 83.6,621.3 85.9,619.9 85.9,620.7 88.8,620.0 88.8,620.8 91.7,619.6 91.7,620.1 91.7,621.3 95.2,621.3 98.7,620.7 101.1,619.5 101.1,620.8 103.4,618.9 103.4,619.6 103.4,622.8 104.6,622.8 104.6,626.0 105.7,626.0 108.1,625.5 108.1,627.1 110.4,626.1 110.4,626.6 110.4,628.9 111.6,628.9 111.6,631.2 112.7,631.2 115.1,629.4 115.1,630.7 117.4,628.0 117.4,628.9 119.8,628.4 119.8,629.4 122.1,628.4 122.1,628.9 122.1,630.1 125.0,630.1 126.1,630.5 126.1,632.0 129.2,632.0 131.9,631.7 131.9,632.7 134.6,631.8 134.6,633.0 137.2,631.8 137.2,633.4 139.9,632.2 139.9,632.8 139.9,633.6 142.5,633.6 142.5,634.3 145.0,634.3 145.0,635.1 147.6,635.1 147.6,636.1 150.7,636.1 150.7,637.2 153.7,637.2 153.7,638.2 156.8,638.2 159.5,637.3 159.5,638.7 162.2,637.1 162.2,638.5 164.8,637.1 164.8,638.1 167.5,636.8 167.5,637.4 167.5,640.1 167.9,640.1 167.9,642.8 168.3,642.8 168.3,643.2 171.6,643.2 171.6,643.6 174.9,643.6 174.9,644.0 178.2,644.0 178.2,645.5 181.3,645.5 184.4,644.9 184.4,646.2 187.4,645.0 187.4,646.1 190.5,644.9 190.5,646.3 193.6,645.2 193.6,646.1 196.6,645.3 196.6,646.1 199.7,644.9 199.7,646.5 202.8,644.9 202.8,646.6 205.8,645.2 205.8,646.3 208.9,645.1 208.9,645.8 208.9,648.9 212.0,648.9 212.0,649.5 214.7,649.5 214.7,650.1 217.3,650.1 217.3,650.7 220.0,650.7 220.0,650.9 222.9,650.9 222.9,651.2 225.7,651.2 225.7,651.4 228.6,651.4 228.6,651.6 231.4,651.6 231.4,651.9 234.3,651.9 234.3,652.1 237.1,652.1 237.1,652.3 240.0,652.3 240.0,652.6 242.8,652.6 242.8,652.8 245.7,652.8 245.7,654.7 247.3,654.7 247.3,655.0 250.2,655.0 250.2,655.2 253.1,655.2 253.1,655.5 256.0,655.5 256.0,655.7 258.9,655.7 258.9,656.0 261.8,656.0 261.8,656.2 264.6,656.2 264.6,656.5 267.5,656.5 267.5,656.7 270.4,656.7 270.4,657.0 273.3,657.0 273.3,657.2 276.2,657.2 276.2,657.3 279.2,657.3 279.2,657.5 282.1,657.5 282.1,657.6 285.1,657.6 285.1,657.8 288.0,657.8 288.0,657.9 291.0,657.9 291.0,658.0 294.0,658.0 294.0,658.2 296.9,658.2 296.9,658.3 299.9,658.3 299.9,658.5 302.8,658.5 302.8,658.6 305.8,658.6 305.8,658.8 308.7,658.8 308.7,658.9 311.7,658.9 311.7,659.0 314.7,659.0 314.7,659.2 317.6,659.2 317.6,659.3 320.6,659.3 320.6,659.5 323.5,659.5 323.5,659.6 326.5,659.6" stroke="#55A868"/>
<path d="M50.6,385.5 50.6,662.0 52.6,659.1 52.6,660.3 54.7,656.9 54.7,657.8 56.7,654.1 56.7,655.0 58.6,652.4 58.6,653.4 60.6,650.3 60.6,651.2 62.5,647.9 62.5,648.6 64.5,645.7 64.5,647.2 66.6,643.7 66.6,644.8 68.7,641.2 68.7,642.9 70.7,639.3 70.7,639.9 73.0,637.5 73.0,639.1 75.3,636.2 75.3,637.1 77.7,634.4 77.7,635.7 80.0,632.6 80.0,633.4 83.1,631.3 83.1,632.4 86.3,629.9 86.3,630.8 89.4,628.1 89.4,628.8 92.1,626.6 92.1,628.2 94.9,625.6 94.9,626.5 97.6,624.2 97.6,624.7 100.3,622.9 100.3,623.7 103.0,621.5 103.0,622.4 105.7,620.2 105.7,620.6 108.0,618.2 108.0,619.9 110.4,617.1 110.4,617.9 112.7,615.3 112.7,616.0 115.7,614.6 115.7,615.7 118.6,613.6 118.6,614.3 120.0,614.4 123.1,612.3 123.1,613.4 126.1,610.7 126.1,612.0 129.2,609.2 129.2,609.8 131.9,607.8 131.9,609.5 134.6,606.7 134.6,608.3 137.2,605.9 137.2,606.8 139.9,604.5 139.9,605.2 143.2,603.8 143.2,605.1 146.4,603.2 146.4,604.2 149.7,602.5 149.7,603.4 153.0,601.8 153.0,602.2 156.2,600.9 156.2,602.5 159.5,600.4 159.5,602.0 162.8,599.8 162.8,601.6 166.0,599.7 166.0,600.2 169.1,599.2 169.1,600.2 172.1,598.4 172.1,599.9 175.2,598.2 175.2,599.1 178.2,597.6 178.2,598.7 181.3,597.0 181.3,597.6 184.4,596.4 184.4,598.0 187.4,596.0 187.4,597.6 190.5,595.7 190.5,597.1 193.6,595.5 193.6,596.0 196.3,594.6 196.3,596.1 198.9,594.0 198.9,595.4 201.6,593.4 201.6,594.7 204.3,592.8 204.3,593.4 207.0,592.7 207.0,593.9 209.7,592.7 209.7,593.7 212.3,592.4 212.3,593.8 215.0,592.6 215.0,593.0 217.5,592.1 217.5,593.8 220.0,592.5 220.0,592.9 222.8,591.8 222.8,592.8 225.6,591.2 225.6,592.2 228.4,590.5 228.4,591.7 231.2,590.1 231.2,590.5 231.2,592.9 232.0,592.9 234.7,592.0 234.7,593.8 237.4,592.3 237.4,593.5 240.1,592.3 240.1,592.9 240.1,595.3 244.1,595.3 244.1,601.0 244.1,601.8 246.9,601.8 246.9,602.6 249.7,602.6 249.7,605.0 250.5,605.0 250.5,606.2 252.9,606.2 252.9,607.4 255.3,607.4 258.6,606.8 258.6,608.0 261.8,606.5 261.8,607.4 261.8,609.8 262.2,609.8 262.2,612.2 262.6,612.2 262.6,616.2 265.0,616.2 268.2,616.2 268.2,617.0 271.4,616.5 271.4,617.0 271.4,621.0 273.0,621.0 273.0,624.2 276.2,624.2 279.1,623.7 279.1,625.2 282.1,624.0 282.1,625.4 285.0,624.5 285.0,625.0 285.0,637.1 288.3,637.9 288.3,641.9 290.7,641.9 290.7,643.5 293.1,643.5 293.1,645.1 295.5,645.1 295.5,646.3 298.7,646.3 298.7,647.5 301.9,647.5 301.9,648.3 305.1,648.3 305.1,649.1 308.3,649.1 308.3,652.3 310.7,652.3 310.7,652.7 313.5,652.7 313.5,653.1 316.4,653.1 316.4,654.7 319.6,654.7 319.6,655.5 322.0,655.5 322.0,656.4 324.4,656.4 324.4,657.2 326.5,657.2" stroke="#C44E52"/>
<path d="M50.6,385.5 50.6,625.0 50.6,627.6 51.4,627.6 51.4,630.2 52.3,630.2 52.3,632.8 53.1,632.8 53.4,629.9 53.8,627.0 54.1,624.1 54.4,621.2 54.7,618.3 55.1,615.3 55.4,612.4 55.7,609.5 56.0,606.6 56.4,603.7 56.7,600.8 56.7,631.8 56.8,628.8 56.9,625.8 57.0,622.9 57.2,619.9 57.3,616.9 57.4,614.0 57.5,611.0 57.6,608.0 60.4,608.0 60.4,610.9 60.6,610.9 60.6,613.8 60.9,613.8 60.9,616.7 61.1,616.7 61.1,619.6 61.4,619.6 61.4,622.5 61.6,622.5 61.6,625.4 61.9,625.4 61.9,628.3 62.1,628.3 62.5,609.0 62.5,627.7 63.1,625.4 63.7,623.1 65.4,623.6 66.9,621.0 66.9,622.2 68.4,618.8 68.4,619.6 70.7,615.9 70.7,617.4 73.0,613.0 73.0,613.7 75.3,610.7 75.3,612.0 77.7,608.4 77.7,609.0 81.2,606.7 83.1,604.3 83.1,605.0 85.0,602.0 85.0,602.6 88.2,600.9 91.1,598.5 91.7,607.3 94.0,606.1 94.0,607.9 96.4,607.9 96.4,610.2 99.9,610.2 102.2,609.0 104.6,607.9 106.6,605.9 106.6,607.5 108.6,604.7 108.6,605.5 109.2,616.0 111.6,615.5 115.1,614.9 115.1,617.2 115.7,617.2 115.7,619.6 116.2,619.6 116.2,621.9 116.8,621.9 116.8,624.2 117.4,624.2 119.8,622.8 119.8,624.5 122.1,622.7 122.1,623.1 125.0,621.9 129.2,622.1 132.0,621.3 132.0,622.5 134.7,621.2 134.7,622.1 137.5,621.0 137.5,621.9 140.2,620.8 140.2,621.6 143.0,620.3 143.0,621.0 143.0,622.5 145.3,622.5 147.9,621.6 147.9,623.1 150.4,621.8 150.4,622.7 153.0,621.7 153.0,622.1 153.7,623.6 156.5,623.0 156.5,623.7 159.3,622.7 159.3,623.5 162.1,622.1 162.1,623.6 165.0,622.2 165.0,623.0 167.8,621.5 167.8,623.2 170.6,621.3 170.6,622.1 170.6,625.9 173.3,625.5 173.3,626.3 175.9,625.3 175.9,626.5 178.6,625.2 178.6,626.6 181.3,625.1 181.3,625.9 181.3,626.6 183.6,626.6 183.6,627.4 185.9,627.4 185.9,629.7 189.0,629.7 192.3,629.0 192.3,630.4 195.6,629.1 195.6,630.3 198.9,628.9 198.9,629.7 198.9,632.0 202.8,632.0 202.8,632.8 205.9,632.8 205.9,633.6 208.9,633.6 208.9,634.6 211.5,634.6 211.5,635.6 214.0,635.6 214.0,636.6 216.6,636.6 220.0,637.1 222.7,636.5 222.7,638.3 225.3,636.9 225.3,638.4 228.0,637.2 228.0,637.9 230.7,637.0 230.7,638.5 233.4,637.0 233.4,638.1 236.1,636.7 236.1,637.4 236.1,639.5 238.5,639.5 242.1,638.8 242.1,640.5 245.7,639.0 245.7,639.8 245.7,641.9 248.9,641.9 252.1,641.1 252.1,642.7 255.3,641.4 255.3,642.4 258.6,641.4 258.6,642.4 261.8,641.0 261.8,642.8 265.0,641.3 265.0,642.5 268.2,641.2 268.2,641.9 268.2,642.3 271.4,642.3 271.4,642.7 274.6,642.7 274.6,645.1 277.8,645.1 277.8,646.7 280.2,646.7 282.9,646.5 282.9,647.3 285.7,646.4 285.7,647.6 288.4,646.4 288.4,648.0 291.2,646.6 291.2,648.1 293.9,647.1 293.9,647.5 293.9,651.5 297.1,651.5 297.1,652.3 299.5,652.3 299.5,653.1 301.9,653.1 301.9,654.7 303.5,654.7 303.5,655.5 306.7,655.5 306.7,656.4 309.9,656.4 309.9,656.8 313.1,656.8 313.1,657.2 316.4,657.2 316.4,658.0 319.6,658.0 319.6,658.8 322.8,658.8 322.8,660.4 326.5,660.4" stroke="#8172B2"/>
<path d="M50.6,385.5 50.6,663.0 50.6,385.5 53.5,384.8 53.5,386.2 56.5,384.8 56.5,386.2 59.4,384.8 59.4,385.5 59.4,524.0 59.8,521.0 60.1,518.0 60.5,515.0 60.9,512.0 61.3,509.0 61.6,506.0 62.0,503.0 62.6,500.0 63.2,497.0 63.8,494.0 64.4,491.0 65.0,488.0 65.8,485.2 66.5,482.5 67.2,479.8 68.0,477.0 69.0,474.0 70.0,471.0 71.0,468.0 72.5,464.8 73.9,461.6 73.9,491.8 75.3,488.6 76.8,485.3 76.6,515.8 78.1,512.5 79.6,509.2 79.6,536.3 81.2,533.5 82.7,530.7 83.1,540.3 84.2,537.9 85.3,535.5 85.8,543.8 86.9,541.1 88.0,538.5 88.8,542.9 89.9,540.5 91.0,538.1 91.5,545.5 93.0,542.5 93.0,544.2 94.5,540.3 94.5,541.2 94.5,543.8 95.4,543.8 97.6,540.3 98.0,546.4 99.3,544.2 100.7,542.0 100.7,566.5 102.3,563.6 102.3,565.4 103.8,561.7 103.8,563.2 105.4,559.7 105.4,560.4 105.4,563.7 105.8,563.7 105.8,567.0 106.3,567.0 108.6,564.7 109.2,581.0 111.0,579.0 111.0,583.0 112.0,583.0 114.0,581.0 114.0,585.0 115.0,585.0 117.0,583.0 117.0,585.7 117.5,585.7 117.5,588.3 118.1,588.3 118.1,591.0 118.6,591.0 120.0,589.1 122.3,586.7 122.3,588.3 124.6,585.4 124.6,586.4 126.9,583.7 126.9,584.9 129.2,581.9 129.2,582.7 129.2,586.1 130.7,586.1 130.7,586.9 133.0,586.9 133.0,587.6 135.3,587.6 138.1,585.9 138.1,587.0 141.0,584.8 141.0,585.9 143.8,583.8 143.8,584.2 144.5,589.1 144.5,589.9 147.6,589.9 147.6,590.7 150.7,590.7 150.7,593.0 153.8,593.0 153.8,595.3 156.8,595.3 156.8,596.0 159.1,596.0 159.1,596.8 161.4,596.8 164.5,595.2 164.5,596.9 167.5,594.6 167.5,596.0 170.6,594.0 170.6,594.5 171.3,597.6 174.0,596.4 174.0,597.8 176.7,595.7 176.7,597.5 179.4,595.7 179.4,596.5 182.1,594.9 182.1,595.6 182.1,606.0 182.1,607.5 185.6,607.5 185.6,609.0 189.0,609.0 189.0,610.3 191.5,610.3 191.5,611.6 194.1,611.6 194.1,612.9 196.6,612.9 199.7,612.5 199.7,613.3 202.7,612.3 202.7,613.5 205.8,612.4 205.8,612.9 206.6,618.2 206.6,619.0 209.3,619.0 209.3,619.8 212.0,619.8 214.7,618.9 214.7,620.3 217.3,618.7 217.3,620.1 220.0,618.7 220.0,619.7 222.7,618.1 222.7,619.0 226.4,619.4 226.4,620.2 228.8,620.2 229.6,625.0 232.8,625.8 232.8,627.5 235.7,627.5 235.7,629.1 238.5,629.1 238.5,629.9 241.3,629.9 241.3,630.7 244.1,630.7 244.1,631.5 246.8,631.5 246.8,632.3 249.4,632.3 249.4,633.1 252.1,633.1 255.3,632.8 255.3,634.2 258.5,633.2 258.5,633.9 258.5,637.1 261.8,637.1 265.0,637.0 265.0,638.0 268.2,637.1 268.2,637.9 268.2,638.4 270.9,638.4 270.9,639.0 273.5,639.0 273.5,639.5 276.2,639.5 276.2,641.1 279.4,641.1 279.4,641.9 281.8,641.9 281.8,642.7 284.2,642.7 284.2,643.9 287.4,643.9 287.4,645.1 290.7,645.1 290.7,646.7 293.5,646.7 293.5,648.3 296.3,648.3 296.3,648.7 299.9,648.7 299.9,649.1 303.5,649.1 303.5,650.3 306.7,650.3 306.7,651.5 309.9,651.5 309.9,653.5 313.1,653.5 313.1,655.6 316.4,655.6 316.4,656.8 320.0,656.8 320.0,658.0 323.6,658.0 323.6,659.6 326.5,659.6" stroke="#CCB974"/>
<path d="M53.4,524.0 53.4,637.0 53.6,633.9 53.7,630.8 53.9,627.7 54.1,624.6 54.2,621.4 54.4,618.3 54.6,615.2 54.7,612.1 54.9,609.0 57.0,607.4 57.0,608.3 59.0,606.3 59.0,606.7 60.5,603.4 61.9,600.0 62.6,597.3 63.3,594.5 64.0,591.8 64.7,589.0 65.4,586.3 65.4,596.8 66.4,593.7 67.4,590.5 68.4,587.4 68.4,596.2 69.5,593.6 70.5,590.9 71.6,588.3 71.6,610.2 72.6,607.9 73.6,605.5 73.6,608.4 74.8,608.4 76.8,605.8 77.1,620.1 79.5,617.2 80.3,621.3 82.2,618.8 82.2,620.3 84.0,617.0 84.0,618.6 85.9,615.1 85.9,616.0 86.5,623.6 86.5,624.5 90.2,624.5 90.2,625.4 94.0,625.4 96.3,624.6 96.3,626.2 98.7,624.9 98.7,625.4 101.1,621.8 101.1,623.2 103.4,618.7 103.4,619.6 104.0,626.6 104.0,627.7 106.3,627.7 106.3,634.6 109.2,633.3 109.2,634.4 112.2,632.7 112.2,633.5 115.1,631.6 115.1,632.3 115.7,639.9 118.8,639.1 118.8,640.3 121.9,638.6 121.9,640.4 125.0,638.6 125.0,639.3 129.2,638.9 129.2,641.2 129.6,641.2 129.6,643.5 130.0,643.5 133.2,643.1 133.2,644.1 136.5,642.9 136.5,644.6 139.8,643.0 139.8,644.7 143.0,643.3 143.0,644.0 143.0,644.6 145.6,644.6 145.6,645.2 148.1,645.2 148.1,645.8 150.7,645.8 153.5,645.0 153.5,646.6 156.4,645.2 156.4,646.4 159.2,645.0 159.2,646.6 162.1,645.1 162.1,646.5 164.9,645.3 164.9,646.3 167.8,645.2 167.8,646.4 170.6,645.2 170.6,645.8 170.6,646.6 173.6,646.6 173.6,647.4 176.7,647.4 179.5,647.0 179.5,648.0 182.3,646.8 182.3,648.5 185.1,647.0 185.1,648.5 188.0,647.3 188.0,648.5 190.8,647.3 190.8,648.7 193.6,647.4 193.6,648.1 193.6,648.5 196.7,648.5 196.7,648.9 199.7,648.9 199.7,649.2 202.8,649.2 202.8,649.6 205.9,649.6 205.9,650.0 208.9,650.0 208.9,650.4 212.0,650.4 212.0,650.8 214.7,650.8 214.7,651.1 217.3,651.1 217.3,651.5 220.0,651.5 220.0,651.7 223.0,651.7 223.0,651.9 226.1,651.9 226.1,652.0 229.1,652.0 229.1,652.2 232.1,652.2 232.1,652.4 235.2,652.4 235.2,652.6 238.2,652.6 238.2,652.7 241.2,652.7 241.2,652.9 244.3,652.9 244.3,653.1 247.3,653.1 247.3,653.6 250.1,653.6 250.1,654.1 252.9,654.1 252.9,654.6 255.7,654.6 255.7,655.1 258.5,655.1 258.5,655.5 261.7,655.5 261.7,655.8 264.9,655.8 264.9,656.2 268.1,656.2 268.1,656.5 271.4,656.5 271.4,656.9 274.6,656.9 274.6,657.2 277.8,657.2 277.8,657.4 280.8,657.4 280.8,657.6 283.9,657.6 283.9,657.8 286.9,657.8 286.9,658.0 290.0,658.0 290.0,658.2 293.0,658.2 293.0,658.4 296.1,658.4 296.1,658.6 299.1,658.6 299.1,658.8 302.1,658.8 302.1,659.0 305.2,659.0 305.2,659.2 308.2,659.2 308.2,659.4 311.3,659.4 311.3,659.6 314.3,659.6 314.3,659.8 317.4,659.8 317.4,660.0 320.4,660.0 320.4,660.2 323.5,660.2 323.5,660.4 326.5,660.4" stroke="#64B5CD"/>
<path d="M51.4,385.5 51.4,662.0 52.0,659.3 52.6,656.6 53.2,653.9 54.4,650.8 55.5,647.6 56.7,644.5 58.5,641.4 58.5,643.0 60.2,639.4 60.2,639.9 61.4,637.5 62.5,635.2 62.8,643.0 65.4,641.0 65.4,650.4 68.7,648.4 68.7,650.0 71.9,647.2 71.9,648.0 74.8,646.3 74.8,648.0 77.7,645.8 77.7,646.3 81.2,644.2 81.2,646.0 84.7,643.4 84.7,643.9 84.7,646.4 85.1,646.4 85.1,649.0 85.5,649.0 85.5,651.5 85.9,651.5 88.8,650.9 88.8,652.1 91.7,650.9 91.7,651.5 91.7,652.4 94.7,652.4 94.7,653.3 97.6,653.3 100.5,652.9 100.5,653.7 103.4,652.8 103.4,653.3 106.5,652.8 106.5,654.2 109.6,652.8 109.6,654.6 112.7,653.4 112.7,653.9 112.7,655.0 115.8,654.0 115.8,655.8 118.8,654.0 118.8,655.5 121.9,654.0 121.9,655.3 125.0,654.0 125.0,654.5 126.1,654.3 126.1,654.7 129.2,654.7 129.2,655.0 132.2,655.0 132.2,655.4 135.3,655.4 135.3,655.8 138.4,655.8 138.4,655.9 141.4,655.9 141.4,656.0 144.3,656.0 144.3,656.1 147.3,656.1 147.3,656.3 150.2,656.3 150.2,656.4 153.2,656.4 153.2,656.5 156.1,656.5 156.1,656.6 159.1,656.6 159.1,658.1 159.9,658.1 163.0,657.2 163.0,658.8 166.0,657.3 166.0,658.5 169.1,657.3 169.1,658.2 172.1,657.1 172.1,658.1 175.2,656.7 175.2,658.3 178.2,657.0 178.2,657.8 181.3,656.9 181.3,657.3 181.3,657.4 184.3,657.4 184.3,657.5 187.3,657.5 187.3,657.5 190.2,657.5 190.2,657.6 193.2,657.6 193.2,657.7 196.2,657.7 196.2,657.8 199.2,657.8 199.2,657.8 202.1,657.8 202.1,657.9 205.1,657.9 205.1,658.0 208.1,658.0 208.1,658.1 211.1,658.1 211.1,658.1 214.0,658.1 214.0,658.2 217.0,658.2 217.0,658.3 220.0,658.3 220.0,658.4 223.0,658.4 223.0,658.4 226.0,658.4 226.0,658.5 229.0,658.5 229.0,658.5 232.1,658.5 232.1,658.6 235.1,658.6 235.1,658.6 238.1,658.6 238.1,658.7 241.1,658.7 241.1,658.8 244.1,658.8 244.1,658.8 247.1,658.8 247.1,658.9 250.1,658.9 250.1,658.9 253.1,658.9 253.1,659.0 256.1,659.0 256.1,659.0 259.2,659.0 259.2,659.1 262.2,659.1 262.2,659.1 265.2,659.1 265.2,659.2 268.2,659.2 268.2,659.3 271.3,659.3 271.3,659.4 274.3,659.4 274.3,659.5 277.4,659.5 277.4,659.6 280.5,659.6 280.5,659.7 283.5,659.7 283.5,659.8 286.6,659.8 286.6,659.9 289.7,659.9 289.7,660.0 292.7,660.0 292.7,660.1 295.8,660.1 295.8,660.3 298.9,660.3 298.9,660.4 302.0,660.4 302.0,660.5 305.0,660.5 305.0,660.6 308.1,660.6 308.1,660.7 311.2,660.7 311.2,660.8 314.2,660.8 314.2,660.9 317.3,660.9 317.3,661.0 320.4,661.0 320.4,661.1 323.4,661.1 323.4,661.2 326.5,661.2" stroke="#FFA500"/>
</g>
<rect x="151.3" y="390.5" width="170.5" height="99.1" rx="2" fill="#fff" fill-opacity="0.8" stroke="#c8c8c8" stroke-width="0.8"/>
<path d="M154.8 397.50H174.60000000000002" stroke="#4C72B0" stroke-width="1.0" stroke-opacity="0.68"/>
<text x="182.3" y="400.90" font-size="9.7" fill="#262626">Random forest (AUPRC: 0.049)</text>
<path d="M154.8 411.40H174.60000000000002" stroke="#55A868" stroke-width="1.0" stroke-opacity="0.68"/>
<text x="182.3" y="414.80" font-size="9.7" fill="#262626">GBM (AUPRC: 0.070)</text>
<path d="M154.8 425.30H174.60000000000002" stroke="#C44E52" stroke-width="1.0" stroke-opacity="0.68"/>
<text x="182.3" y="428.70" font-size="9.7" fill="#262626">Simple RNN (AUPRC: 0.165)</text>
<path d="M154.8 439.20H174.60000000000002" stroke="#8172B2" stroke-width="1.0" stroke-opacity="0.68"/>
<text x="182.3" y="442.60" font-size="9.7" fill="#262626">LSTM (AUPRC: 0.118)</text>
<path d="M154.8 453.10H174.60000000000002" stroke="#CCB974" stroke-width="1.0" stroke-opacity="0.68"/>
<text x="182.3" y="456.50" font-size="9.7" fill="#262626">GRU (AUPRC: 0.250)</text>
<path d="M154.8 467.00H174.60000000000002" stroke="#64B5CD" stroke-width="1.0" stroke-opacity="0.68"/>
<text x="182.3" y="470.40" font-size="9.7" fill="#262626">Transformer (AUPRC: 0.074)</text>
<path d="M154.8 480.90H174.60000000000002" stroke="#FFA500" stroke-width="1.0" stroke-opacity="0.68"/>
<text x="182.3" y="484.30" font-size="9.7" fill="#262626">RETAIN (AUPRC: 0.025)</text>
<rect x="38" y="385.5" width="288.20" height="291.00" fill="none" stroke="#4a4a4a" stroke-width="1.15"/>
<text x="51.74" y="689.4" font-size="12" fill="#262626" text-anchor="middle">0.0</text>
<text x="34.7" y="667.92" font-size="12" fill="#262626" text-anchor="end">0.0</text>
<text x="106.69" y="689.4" font-size="12" fill="#262626" text-anchor="middle">0.2</text>
<text x="34.7" y="612.40" font-size="12" fill="#262626" text-anchor="end">0.2</text>
<text x="161.64" y="689.4" font-size="12" fill="#262626" text-anchor="middle">0.4</text>
<text x="34.7" y="556.87" font-size="12" fill="#262626" text-anchor="end">0.4</text>
<text x="216.60" y="689.4" font-size="12" fill="#262626" text-anchor="middle">0.6</text>
<text x="34.7" y="501.35" font-size="12" fill="#262626" text-anchor="end">0.6</text>
<text x="271.55" y="689.4" font-size="12" fill="#262626" text-anchor="middle">0.8</text>
<text x="34.7" y="445.82" font-size="12" fill="#262626" text-anchor="end">0.8</text>
<text x="326.50" y="689.4" font-size="12" fill="#262626" text-anchor="middle">1.0</text>
<text x="34.7" y="390.30" font-size="12" fill="#262626" text-anchor="end">1.0</text>
<text x="185.95" y="378.7" font-size="13" fill="#262626" text-anchor="middle">Precision-recall curve of internal validation</text>
<text x="182.25" y="706.2" font-size="13" fill="#262626" text-anchor="middle">Recall</text>
<text x="9.7" y="531.25" font-size="13" fill="#262626" text-anchor="middle" transform="rotate(-90 9.7 531.25)">Precision</text>
<clipPath id="clipBR"><rect x="389" y="385.5" width="288" height="291.5"/></clipPath>
<path d="M402.71 385.5V677M389 663.12H677M457.57 385.5V677M389 607.60H677M512.43 385.5V677M389 552.07H677M567.29 385.5V677M389 496.55H677M622.14 385.5V677M389 441.02H677M677.00 385.5V677M389 385.50H677" stroke="#eeeeee" stroke-width="0.85" fill="none"/>
<g clip-path="url(#clipBR)" fill="none" stroke-width="1.0" stroke-linejoin="miter" stroke-opacity="0.68">
<path d="M398.8,600.0 398.9,660.0 399.4,654.9 399.6,653.0 399.8,651.9 400.1,650.3 400.3,648.9 400.5,646.4 400.7,644.9 400.9,643.1 401.2,641.6 401.4,640.7 401.6,638.8 402.3,637.4 403.0,635.5 403.8,634.1 404.5,632.9 405.2,631.5 405.8,630.1 406.4,627.7 407.0,626.4 407.7,624.7 408.3,624.1 408.9,622.0 409.8,623.7 410.7,625.1 411.6,626.2 412.5,627.2 413.6,628.3 414.7,628.6 416.4,628.6 418.1,627.6 419.8,627.2 421.3,628.0 422.7,628.5 424.2,629.3 425.6,629.8 427.1,630.1 428.6,630.4 430.0,631.5 431.5,631.4 432.9,631.1 434.4,630.1 435.9,629.3 446.1,629.8 453.4,630.1 454.8,631.2 456.3,631.0 457.8,632.5 459.2,633.0 468.0,633.0 469.5,632.8 470.9,633.1 472.4,633.8 473.9,633.7 475.3,634.2 476.8,634.5 485.5,635.2 490.0,634.6 497.3,635.3 511.9,635.3 513.5,635.3 515.1,635.1 516.8,635.8 518.4,635.6 520.0,635.8 521.6,635.9 523.3,636.3 524.9,636.0 526.5,636.8 528.1,637.6 529.7,637.0 531.4,637.6 533.0,638.0 534.6,636.9 536.2,637.2 537.9,638.3 539.5,638.5 541.1,638.2 555.7,638.9 557.3,638.7 558.9,639.3 560.6,640.1 562.2,640.4 563.8,640.5 565.4,640.0 567.1,641.1 568.7,640.7 570.3,641.1 571.9,640.7 573.6,642.0 575.2,641.5 576.8,641.8 578.5,641.2 580.1,641.9 581.7,641.9 583.4,642.0 585.0,642.0 586.5,642.5 588.1,642.1 589.6,642.2 591.1,642.1 592.7,643.0 594.2,642.4 595.7,642.7 597.3,642.6 598.8,643.6 600.3,643.6 601.9,643.7 603.4,643.8 604.9,643.9 606.5,644.0 608.0,643.9 609.5,644.0 611.1,645.7 612.6,644.7 614.1,645.2 615.7,645.3 617.2,646.0 618.7,645.5 620.3,646.3 621.8,646.6 623.3,647.3 624.8,646.4 626.4,647.0 627.9,647.5 629.4,648.4 631.0,648.0 632.5,648.1 634.0,648.6 635.5,648.3 637.0,648.2 638.6,649.1 640.1,649.3 641.6,649.9 643.2,649.6 644.7,650.5 646.2,651.0 647.8,650.5 649.3,651.3 650.8,651.3 652.4,651.4 653.9,651.8 655.4,652.0 657.0,652.5 658.5,653.0 660.0,653.2 661.6,653.0 663.1,654.3 664.6,654.4 666.2,653.8 667.7,655.2 669.2,654.7 670.8,655.4 672.3,655.9 673.8,655.8 675.4,656.1 676.9,656.7" stroke="#4C72B0"/>
<path d="M399.2,385.5 399.4,654.9 399.5,652.9 399.6,651.6 399.7,650.1 399.8,648.9 399.8,647.3 399.9,645.6 400.0,643.3 400.1,642.1 400.2,639.5 400.3,638.1 400.4,636.7 400.4,635.4 400.5,634.0 400.6,631.4 400.7,630.3 400.8,628.6 401.8,627.1 402.8,626.2 403.8,625.7 404.4,624.0 405.0,623.2 405.5,621.2 406.1,619.9 406.7,618.4 407.6,616.6 408.5,615.2 409.3,614.0 410.2,612.3 411.1,611.1 412.3,609.6 413.4,608.6 414.6,608.9 415.7,608.1 416.9,606.7 418.3,606.0 419.8,604.8 421.2,604.7 422.7,603.8 427.1,603.8 428.6,604.2 430.1,605.9 431.5,605.4 433.0,606.7 443.2,607.4 444.7,607.6 446.1,608.3 447.6,610.2 449.0,610.4 450.5,611.1 456.3,610.4 460.7,610.4 461.8,611.1 462.9,611.5 464.0,613.3 465.1,614.0 466.6,615.1 468.0,615.0 469.5,615.5 470.9,616.0 472.4,616.2 473.9,616.6 475.3,617.2 476.8,617.9 478.2,617.3 479.7,618.4 481.2,619.3 482.6,619.6 484.1,619.6 485.5,621.4 487.0,621.3 488.5,621.4 490.0,622.9 491.6,622.6 493.2,623.1 494.9,624.2 496.5,624.8 498.1,624.5 499.7,625.0 501.4,625.1 503.0,625.6 504.6,626.5 506.1,626.3 507.5,626.7 509.0,627.8 510.4,628.0 511.9,628.0 513.5,628.5 515.1,628.1 516.8,628.5 518.4,628.6 520.0,628.6 521.6,630.1 523.3,630.4 524.9,630.4 526.5,630.2 528.1,630.4 529.7,631.5 531.4,631.6 533.0,631.7 534.6,631.4 536.2,632.0 537.9,631.9 539.5,633.1 541.1,633.1 542.7,633.7 544.3,634.1 546.0,633.9 547.6,633.1 549.2,634.5 550.8,634.7 552.5,634.9 554.1,634.8 555.7,634.6 557.3,635.1 558.9,635.3 560.6,634.7 562.2,636.2 563.8,636.4 565.4,636.5 567.1,635.7 568.7,636.0 570.3,636.8 571.9,636.9 573.6,636.8 575.2,637.5 576.9,637.3 578.5,637.2 580.1,637.2 581.8,638.3 583.4,638.3 585.1,638.8 586.7,638.5 588.4,638.2 590.0,638.9 591.5,639.1 593.0,639.2 594.5,639.4 596.0,640.4 597.4,640.6 598.9,641.3 600.4,641.9 601.9,641.0 603.4,642.0 604.9,641.7 606.5,643.0 608.0,643.6 609.5,643.5 611.1,644.2 612.6,643.3 614.1,643.9 615.7,644.7 617.2,644.8 618.7,644.4 620.3,645.0 621.8,645.7 623.3,645.9 624.8,646.2 626.4,645.9 627.9,646.3 629.4,647.2 631.0,647.7 632.5,648.4 634.0,648.5 635.5,648.6 637.0,649.2 638.6,648.4 640.1,649.3 641.6,650.2 643.2,649.6 644.7,650.9 646.2,650.4 647.8,650.9 649.3,651.6 650.8,651.4 652.4,651.3 653.9,652.3 655.4,652.5 657.0,652.5 658.5,653.0 660.0,652.7 661.6,653.2 663.1,653.7 664.6,654.2 666.2,654.7 667.7,654.5 669.2,655.5 670.8,656.1 672.3,656.1 673.8,655.8 675.4,655.8 676.9,656.7" stroke="#55A868"/>
<path d="M399.3,385.5 399.4,660.0 399.8,658.3 400.1,656.2 400.5,655.9 400.9,653.3 401.2,651.6 401.6,650.5 402.2,649.4 402.8,647.4 403.4,646.6 404.0,644.7 404.6,643.7 405.2,641.8 406.1,640.4 407.0,639.4 407.8,637.1 408.7,635.5 409.6,634.5 410.6,633.7 411.5,631.5 412.5,630.3 413.5,628.9 414.4,627.9 415.4,627.2 416.6,626.6 417.8,624.2 418.9,623.7 420.1,622.3 421.3,621.3 422.5,620.1 423.6,619.6 424.8,618.6 425.9,618.3 427.1,616.9 428.6,615.5 430.1,615.3 431.5,614.1 433.0,613.3 434.4,611.9 435.9,610.9 437.4,610.9 438.8,609.6 440.3,609.3 441.7,607.6 443.2,606.6 444.6,606.5 446.1,605.3 447.3,604.1 448.5,603.5 449.8,603.1 451.0,602.4 452.2,601.1 453.4,600.1 454.9,599.6 456.3,598.8 457.8,598.0 459.2,597.1 460.7,596.5 462.2,595.4 463.6,595.2 465.1,593.6 466.5,594.1 468.0,592.8 469.5,591.5 470.9,590.8 472.4,590.0 473.9,588.7 475.3,589.2 476.8,587.7 478.2,587.0 479.7,586.4 481.1,586.6 482.6,584.6 484.1,584.2 485.5,584.1 487.0,583.7 488.5,582.5 490.0,582.5 491.5,582.2 492.9,581.4 494.4,580.6 495.9,580.0 497.3,580.1 498.8,579.1 500.4,579.0 502.1,577.7 503.7,578.4 505.4,577.5 507.0,577.5 508.6,576.9 510.3,577.2 511.9,576.2 513.5,576.0 515.1,575.5 516.8,574.5 518.4,574.8 520.0,574.6 521.6,573.1 523.3,574.0 524.9,572.6 526.5,572.5 528.1,572.3 529.8,572.1 531.4,571.2 533.0,571.2 534.7,571.2 536.3,570.6 538.0,570.5 539.6,570.0 541.1,569.1 542.5,569.4 544.0,568.9 545.5,569.0 546.9,568.6 548.4,568.1 550.0,567.4 551.6,567.9 553.3,567.6 554.9,567.5 556.5,566.6 558.1,566.3 559.8,566.2 561.4,566.2 563.0,566.0 564.7,565.2 566.4,566.2 568.1,565.2 569.8,564.8 571.5,564.2 573.2,564.5 580.5,565.2 582.0,565.0 583.5,566.8 585.0,566.6 586.5,567.2 588.0,567.8 589.4,569.4 590.9,570.1 592.4,571.2 593.8,571.9 595.1,572.0 596.5,573.4 597.9,574.0 599.0,574.6 600.1,576.7 601.2,578.4 602.3,579.6 603.4,580.4 604.3,582.1 605.2,582.4 606.1,583.6 607.1,585.5 608.0,586.6 608.9,587.8 609.8,588.6 610.7,590.2 611.6,591.5 612.6,593.1 613.5,594.3 614.4,596.0 615.8,596.4 617.1,597.5 618.5,598.3 619.9,598.8 621.3,599.6 622.6,600.2 624.0,601.3 625.4,602.5 626.6,604.2 627.9,604.0 629.1,605.3 630.3,607.1 631.6,608.1 632.8,608.9 634.0,609.9 635.2,611.6 636.5,613.1 637.7,613.8 638.9,615.7 640.1,616.3 641.5,617.0 642.9,618.7 644.2,619.5 645.6,619.9 647.1,620.1 648.7,620.1 650.2,620.9 651.7,621.5 653.3,622.3 654.8,622.7 656.2,623.1 657.5,623.9 658.9,625.1 660.3,626.4 661.2,627.2 662.2,629.0 663.1,630.3 664.0,630.9 665.0,632.4 665.9,633.7 666.8,634.6 667.7,636.3 668.6,637.0 669.6,639.0 670.5,640.1 671.4,641.1 672.3,642.6 673.2,643.9 674.2,645.0 675.1,647.4 676.0,648.4 676.3,649.6 676.6,651.6 676.9,653.9" stroke="#C44E52"/>
<path d="M401.8,420.2 401.9,421.7 401.9,423.9 402.0,425.2 402.0,426.7 402.1,428.2 402.1,429.6 402.2,430.6 402.2,432.8 402.3,434.8 402.3,436.4 402.4,438.1 402.4,438.5 402.5,440.6 402.5,441.7 402.6,443.9 402.6,477.8 403.0,506.5 403.1,507.5 403.3,509.8 403.4,511.6 403.6,512.3 403.8,513.9 403.9,515.5 404.1,517.2 404.2,519.6 404.4,520.4 404.5,522.6 404.9,521.6 405.2,519.0 405.6,518.0 406.0,517.0 406.3,515.7 406.7,513.8 407.1,515.1 407.4,517.2 407.8,518.8 408.2,520.0 408.5,521.2 408.9,522.6 409.8,520.9 410.7,519.7 411.6,518.7 412.5,516.7 413.1,515.4 413.8,513.2 414.4,511.5 415.1,511.0 415.7,508.9 416.3,507.5 417.0,505.2 417.6,504.3 417.9,506.2 418.2,507.9 418.5,508.5 418.8,510.0 419.1,512.3 419.7,511.0 420.2,508.7 420.8,507.8 421.3,506.5 421.7,507.6 422.1,509.2 422.5,510.3 423.0,512.5 423.4,514.2 423.8,514.8 424.2,516.7 424.5,518.6 424.8,519.2 425.1,520.8 425.5,521.9 425.8,524.4 426.1,525.3 426.4,526.9 426.8,528.9 427.1,530.5 427.5,531.2 427.9,532.5 428.2,534.8 428.6,535.7 429.3,536.9 430.1,538.7 430.8,540.5 431.5,541.7 432.3,543.6 433.0,544.5 434.0,546.2 434.9,546.7 435.9,548.8 436.9,549.3 437.8,550.8 438.8,551.8 440.1,553.0 441.4,554.4 442.8,555.0 444.1,556.4 445.4,556.9 445.8,558.8 446.1,560.0 446.4,561.7 446.8,563.4 448.1,564.7 449.4,565.3 450.6,565.9 451.9,566.4 453.4,566.2 454.8,564.8 456.3,564.7 457.7,564.6 459.2,563.4 460.7,562.8 462.1,562.8 463.6,561.5 465.0,561.6 466.5,561.2 467.2,562.0 468.0,564.4 468.8,565.8 469.5,566.4 476.8,567.1 482.6,566.4 484.1,567.2 485.5,566.9 486.9,567.6 488.4,568.5 490.0,569.6 491.4,569.3 492.9,570.2 494.4,570.6 495.8,571.1 497.0,572.5 498.2,572.5 499.3,574.0 500.5,575.7 501.7,576.2 503.2,577.3 504.6,577.4 506.1,576.9 507.5,577.3 509.0,578.4 510.4,579.2 511.9,578.8 513.3,578.9 514.8,579.8 516.0,580.2 517.2,582.3 518.5,582.5 519.7,583.7 520.9,585.4 522.1,585.7 523.6,585.9 525.0,586.6 526.5,586.6 527.9,586.9 529.4,587.8 530.9,589.0 532.3,589.7 533.8,589.7 535.3,590.8 536.8,590.9 538.2,591.6 539.6,593.0 541.1,593.7 542.6,594.4 544.0,595.0 545.5,595.6 546.9,594.7 548.4,596.0 549.8,596.0 551.3,596.6 552.8,597.3 554.2,598.3 555.7,598.5 557.2,599.7 558.6,599.9 560.1,600.3 561.6,600.7 563.0,600.5 564.5,601.4 565.9,601.8 567.4,602.4 568.9,603.7 570.3,603.8 571.8,604.6 573.2,605.5 574.7,606.1 576.2,606.9 577.6,606.6 579.0,607.1 580.5,608.3 582.0,608.2 583.4,609.0 585.0,610.1 586.7,609.1 588.4,609.6 590.0,610.5 591.4,610.4 592.8,611.7 594.2,611.7 595.7,612.6 597.3,612.8 598.8,612.5 600.3,612.8 601.9,614.1 603.4,614.4 604.9,615.3 606.5,616.3 608.0,616.7 609.5,617.5 611.1,618.8 612.6,619.0 614.1,619.0 615.7,619.8 617.2,621.0 618.7,622.0 620.3,621.6 621.8,622.7 623.3,622.9 624.7,624.6 626.2,624.7 627.6,625.9 629.1,626.4 630.6,626.6 632.2,627.1 633.7,627.4 635.2,627.7 636.8,628.4 638.3,629.1 639.8,630.1 641.2,631.6 642.7,632.2 644.1,633.0 645.6,633.7 647.1,634.5 648.7,634.7 650.2,635.4 651.7,636.5 653.3,637.4 654.8,637.4 656.3,637.8 657.8,638.5 659.2,638.9 660.7,639.8 662.2,640.1 663.5,641.5 664.8,642.3 666.1,641.9 667.5,643.4 668.8,644.6 670.1,645.6 671.4,645.7 672.2,646.7 673.0,648.9 673.8,649.0 674.5,650.4 675.3,652.9 676.1,653.9 676.9,654.8" stroke="#8172B2"/>
<path d="M399.0,385.5 410.3,385.8 410.3,404.1 411.2,403.1 412.1,402.1 413.0,401.0 414.3,400.5 415.6,399.7 416.9,398.2 418.4,397.3 420.0,396.0 421.6,395.9 423.3,394.5 424.9,394.3 425.3,396.5 425.7,398.2 427.5,397.3 429.3,396.8 429.7,398.9 430.2,400.1 430.6,401.3 431.1,403.4 431.5,404.8 431.8,405.8 432.1,408.4 432.4,409.2 432.8,411.4 433.1,412.9 433.4,415.0 433.7,416.5 433.9,417.5 434.1,420.2 434.3,421.2 434.5,422.9 434.7,424.0 434.9,426.2 435.1,427.4 435.9,428.7 436.6,429.4 437.4,430.8 438.1,432.6 440.3,431.8 440.6,434.0 440.8,434.6 441.1,436.3 441.4,438.2 441.6,439.3 441.9,440.7 442.1,442.4 442.4,444.2 443.9,443.6 445.4,442.8 446.8,442.2 448.3,442.0 449.2,443.3 450.2,444.8 451.1,446.3 452.1,447.7 453.0,448.1 454.0,449.5 454.9,451.5 456.4,451.2 457.8,450.1 459.0,451.5 460.1,452.1 461.3,453.1 462.4,453.8 463.6,454.5 464.6,456.5 465.5,457.4 466.5,458.8 468.0,458.8 469.4,458.8 470.9,459.6 472.0,460.5 473.1,462.2 474.2,463.3 475.3,463.9 479.7,463.9 480.8,465.5 481.9,466.3 482.9,468.4 484.0,469.0 484.6,470.4 485.2,471.7 485.8,472.7 486.4,474.2 487.0,475.6 488.5,475.6 489.9,477.2 491.4,477.5 492.3,478.6 493.2,479.7 494.0,482.3 494.9,482.9 495.8,484.6 496.8,485.6 497.8,487.5 498.8,488.4 499.7,489.4 500.7,491.2 501.7,491.9 503.1,492.6 504.6,493.1 506.1,492.4 507.5,493.4 508.4,494.1 509.3,495.9 510.1,497.4 511.0,498.0 511.9,499.9 513.4,499.8 514.8,501.5 516.3,501.4 517.7,502.0 519.2,502.8 520.7,504.2 522.1,504.4 523.6,505.0 525.0,506.8 526.5,507.2 528.0,507.0 529.4,507.7 530.9,507.8 532.3,509.2 533.8,509.4 535.2,509.3 536.7,510.1 538.2,510.9 539.6,512.1 541.1,513.2 542.5,513.3 544.0,514.5 544.7,515.2 545.5,517.7 546.2,518.6 546.9,519.6 548.4,520.0 549.8,520.8 551.3,521.2 552.7,522.2 554.2,522.6 555.4,524.2 556.6,524.8 557.7,525.9 558.9,526.0 560.1,527.7 561.2,528.6 562.3,529.6 563.4,532.2 564.5,532.8 565.2,534.3 565.9,535.0 566.6,536.8 567.4,537.9 568.1,539.6 568.8,540.8 570.3,541.9 571.7,542.8 573.2,542.8 574.6,543.3 576.1,544.5 577.0,545.3 577.9,547.2 578.7,548.9 579.6,550.1 580.5,551.8 581.7,552.3 582.9,554.1 584.0,554.1 585.2,554.8 586.4,556.1 587.7,557.6 589.0,558.1 590.3,558.9 591.6,559.1 592.9,560.4 594.2,561.1 595.5,562.0 596.8,562.6 598.1,564.2 599.5,565.0 600.8,565.6 602.1,566.3 603.4,567.6 604.4,568.4 605.5,570.1 606.5,571.3 607.6,572.2 608.6,574.0 609.7,576.1 610.7,576.8 611.9,577.7 613.2,579.2 614.4,580.4 615.6,581.5 616.9,581.8 618.1,583.2 619.5,583.4 620.8,584.0 622.2,585.9 623.6,586.9 624.9,587.6 626.3,587.8 627.6,588.3 628.9,590.6 630.2,591.0 631.5,592.7 632.8,593.3 634.2,594.1 635.5,594.7 636.9,595.7 638.3,596.0 639.1,597.1 639.9,598.6 640.7,600.9 641.4,601.2 642.2,603.3 643.0,605.2 643.8,606.2 644.6,607.5 645.3,608.8 646.1,610.3 646.9,612.4 647.6,613.7 648.4,615.3 649.7,617.0 651.0,618.2 652.2,618.1 653.5,619.9 654.8,620.9 656.0,621.1 657.3,622.3 658.5,623.6 659.7,624.6 661.0,625.1 662.2,626.4 663.4,627.6 664.6,627.8 665.9,628.5 667.1,629.7 668.3,631.2 669.5,631.9 670.4,632.8 671.3,634.3 672.2,635.3 673.2,637.1 674.1,637.9 675.0,639.2 675.3,641.1 675.5,641.8 675.8,643.6 676.1,645.4 676.4,647.4 676.6,649.1 676.9,650.3" stroke="#CCB974"/>
<path d="M401.8,423.0 401.8,452.4 401.8,452.4 401.9,453.3 401.9,454.9 402.0,457.3 402.0,459.0 402.1,460.8 402.2,462.2 402.2,462.9 402.3,464.9 402.4,467.0 402.4,467.7 402.5,468.9 402.5,471.2 402.6,472.7 402.8,474.7 402.9,475.7 403.1,476.8 403.3,479.1 403.5,480.7 403.6,481.6 403.8,483.1 404.4,484.4 404.9,486.4 405.4,487.7 406.0,489.0 406.7,506.5 407.1,507.7 407.6,509.2 408.0,510.5 408.5,512.8 408.9,513.8 409.6,528.4 410.5,529.4 411.4,530.9 412.2,532.1 413.1,532.5 414.0,534.2 415.4,533.7 416.9,532.8 417.6,543.0 418.5,543.5 419.5,545.7 420.4,546.3 421.3,547.4 422.1,546.8 423.0,545.0 423.8,543.0 424.6,541.7 425.4,540.5 426.3,540.1 427.1,538.6 427.2,540.4 427.4,541.7 427.5,543.2 427.6,544.9 427.7,546.0 427.9,548.0 428.0,550.2 428.1,551.0 428.2,553.4 428.4,554.2 428.5,555.7 428.6,557.6 429.3,558.9 430.0,560.0 430.8,561.7 431.5,562.5 432.2,564.2 433.0,564.9 433.5,565.8 433.9,566.9 434.4,568.8 435.6,569.7 436.8,570.8 438.0,571.5 439.3,572.2 440.5,573.6 441.7,574.6 442.6,576.4 443.5,577.3 444.3,577.7 445.2,578.6 446.1,580.4 447.1,581.8 448.2,583.6 449.2,584.8 450.3,585.8 451.3,587.8 452.4,588.9 453.4,589.9 457.8,589.9 459.0,591.8 460.1,592.0 461.3,594.2 462.4,594.6 463.6,596.5 464.5,598.2 465.4,598.8 466.2,600.1 467.1,602.3 468.0,603.1 469.5,603.7 470.9,604.5 472.4,604.1 473.8,605.0 475.3,605.3 476.8,606.3 478.2,607.1 479.7,608.3 481.1,608.6 482.6,609.6 488.4,610.4 489.2,612.0 490.0,612.7 491.5,613.2 492.9,613.4 494.4,612.8 495.9,613.2 497.3,613.5 498.8,614.1 500.3,614.0 501.7,615.5 503.2,614.9 504.6,616.1 506.1,616.9 507.5,616.6 509.0,617.8 510.4,617.9 511.9,618.5 513.4,619.1 514.8,620.3 516.3,620.8 517.7,620.8 519.2,622.2 520.7,622.2 522.1,623.9 523.6,623.4 525.0,623.7 526.5,624.6 528.0,624.6 529.4,625.7 530.9,626.3 532.3,627.0 533.8,627.3 535.4,627.3 537.0,628.3 538.7,628.7 540.3,628.3 541.9,628.8 543.5,629.9 545.2,629.3 546.8,629.2 548.4,630.2 550.0,630.2 551.6,631.0 553.3,630.7 554.9,631.3 556.5,632.3 558.1,632.8 559.8,633.1 561.4,633.3 563.0,633.1 564.5,633.2 565.9,634.2 567.4,634.8 568.9,635.0 570.3,634.5 571.8,635.5 573.2,636.0 574.7,636.0 576.2,635.7 577.8,636.9 579.3,636.3 580.8,636.6 582.4,636.8 583.9,637.3 585.4,638.5 586.9,638.4 588.5,638.9 590.0,638.9 591.7,638.9 593.4,639.9 595.0,640.0 596.7,640.2 598.4,639.8 600.0,640.1 601.7,641.0 603.4,641.1 604.9,641.3 606.5,642.1 608.0,642.1 609.5,642.6 611.1,643.3 612.6,643.0 614.1,643.0 615.7,643.7 617.2,644.5 618.7,644.7 620.3,643.7 621.8,644.7 623.3,644.4 624.8,645.5 626.4,646.3 627.9,646.6 629.4,646.9 631.0,646.6 632.5,646.5 634.0,646.6 635.5,646.9 637.0,648.2 638.6,647.7 640.1,648.4 641.6,648.1 643.2,649.4 644.7,649.4 646.2,650.1 647.8,650.7 649.3,649.8 650.8,651.1 652.4,651.1 653.9,651.0 655.4,651.9 657.0,652.0 658.5,652.5 660.0,652.4 661.6,653.2 663.1,654.1 664.6,654.5 666.2,654.5 667.7,655.1 669.2,655.1 670.8,655.4 672.3,655.6 673.8,655.4 675.4,656.2 676.9,656.7" stroke="#64B5CD"/>
<path d="M398.6,385.5 398.6,660.0" stroke="#64B5CD"/>
<path d="M400.0,385.5 400.5,487.5 400.5,524.0 400.5,526.0 400.6,526.7 400.6,529.0 400.7,530.6 400.7,532.4 400.8,533.1 400.8,535.6 400.9,536.2 400.9,537.9 401.0,539.4 401.0,540.6 401.1,542.4 401.1,544.4 401.2,546.5 401.2,547.0 401.3,549.7 401.3,550.9 401.4,552.2 401.4,553.2 401.5,555.7 401.5,556.7 401.6,558.0 401.6,560.0 402.3,560.0 403.0,571.7 403.0,587.7 403.2,586.4 403.3,583.8 403.5,582.2 403.7,580.5 403.8,580.0 404.0,577.9 404.2,576.1 404.3,574.3 404.5,573.1 405.2,599.4 405.6,598.1 405.9,596.7 406.3,594.4 406.7,593.8 407.0,592.5 407.4,590.7 407.6,592.9 407.9,593.3 408.1,595.1 408.4,597.8 408.6,598.2 408.9,600.0 409.1,602.3 409.4,604.1 409.6,605.3 410.1,603.5 410.6,603.0 411.1,601.2 411.7,598.8 412.2,598.1 412.7,596.7 413.2,595.0 414.2,595.6 415.2,597.4 416.2,598.0 416.6,599.9 416.9,601.0 417.3,602.7 417.7,603.2 418.0,605.4 418.4,606.7 419.6,607.1 420.8,608.4 422.0,609.6 425.7,609.6 426.6,611.0 427.4,612.7 428.3,613.7 429.1,615.4 430.0,616.9 431.1,618.2 432.2,618.2 433.3,619.9 434.4,620.6 443.2,621.3 453.4,621.3 454.6,621.8 455.7,623.8 456.9,624.4 458.0,625.9 459.2,627.2 460.7,628.2 462.1,629.0 463.6,629.0 465.1,630.3 466.5,629.6 468.0,630.8 469.4,631.0 470.9,631.4 472.4,631.3 473.8,632.3 475.3,633.4 476.7,633.9 478.2,634.1 479.7,634.8 481.1,635.2 482.6,635.9 484.1,636.0 485.6,637.0 487.0,637.0 488.5,638.2 490.0,638.2 491.5,638.1 492.9,639.4 494.4,639.6 495.9,639.7 497.3,640.5 498.8,641.1 500.4,641.4 502.1,641.0 503.7,641.9 505.4,642.2 507.0,642.1 508.6,642.2 510.3,643.0 511.9,642.6 513.5,642.4 515.1,642.7 516.8,642.9 518.4,643.3 520.0,643.4 521.6,644.6 523.3,644.6 524.9,644.4 526.5,644.8 528.1,645.1 529.7,644.6 531.4,645.4 533.0,646.5 534.6,645.9 536.2,647.0 537.9,646.6 539.5,646.4 541.1,647.0 542.7,646.7 544.3,646.9 546.0,647.0 547.6,647.8 549.2,648.3 550.8,647.6 552.5,647.4 554.1,648.1 555.7,648.4 557.3,649.1 558.9,648.6 560.6,648.7 562.2,648.8 563.8,650.0 565.4,649.9 567.1,650.1 568.7,650.2 570.3,650.2 571.9,649.7 573.6,649.8 575.2,650.3 576.8,650.1 578.5,651.2 580.1,650.3 581.7,650.5 583.4,650.7 585.0,651.2 586.5,651.4 588.1,651.6 589.6,651.6 591.1,652.0 592.7,651.1 594.2,651.4 595.7,652.6 597.3,651.5 598.8,652.3 600.3,651.8 601.9,651.8 603.4,652.5 604.9,652.6 606.5,652.9 608.0,652.7 609.5,652.9 611.1,653.4 612.6,652.8 614.1,653.6 615.7,652.9 617.2,653.7 618.7,653.2 620.3,654.4 621.8,653.9 623.5,654.5 625.1,654.8 626.8,654.6 628.5,654.4 630.1,654.2 631.8,654.2 633.4,654.5 635.1,655.6 636.8,655.2 638.4,654.7 640.1,655.4 641.6,655.9 643.2,656.1 644.7,655.8 646.2,655.1 647.8,656.1 649.3,655.2 650.8,656.4 652.4,656.6 653.9,655.6 655.4,655.8 657.0,655.6 658.5,656.3 660.0,656.3 661.6,656.5 663.1,657.2 664.6,656.1 666.2,657.4 667.7,657.5 669.2,657.4 670.8,657.4 672.3,657.5 673.8,656.8 675.4,657.5 676.9,657.6" stroke="#FFA500"/>
</g>
<rect x="502.0" y="390.5" width="170.5" height="99.1" rx="2" fill="#fff" fill-opacity="0.8" stroke="#c8c8c8" stroke-width="0.8"/>
<path d="M505.5 397.50H525.3" stroke="#4C72B0" stroke-width="1.0" stroke-opacity="0.68"/>
<text x="533.0" y="400.90" font-size="9.7" fill="#262626">Random forest (AUPRC: 0.086)</text>
<path d="M505.5 411.40H525.3" stroke="#55A868" stroke-width="1.0" stroke-opacity="0.68"/>
<text x="533.0" y="414.80" font-size="9.7" fill="#262626">GBM (AUPRC: 0.118)</text>
<path d="M505.5 425.30H525.3" stroke="#C44E52" stroke-width="1.0" stroke-opacity="0.68"/>
<text x="533.0" y="428.70" font-size="9.7" fill="#262626">Simple RNN (AUPRC: 0.241)</text>
<path d="M505.5 439.20H525.3" stroke="#8172B2" stroke-width="1.0" stroke-opacity="0.68"/>
<text x="533.0" y="442.60" font-size="9.7" fill="#262626">LSTM (AUPRC: 0.271)</text>
<path d="M505.5 453.10H525.3" stroke="#CCB974" stroke-width="1.0" stroke-opacity="0.68"/>
<text x="533.0" y="456.50" font-size="9.7" fill="#262626">GRU (AUPRC: 0.535)</text>
<path d="M505.5 467.00H525.3" stroke="#64B5CD" stroke-width="1.0" stroke-opacity="0.68"/>
<text x="533.0" y="470.40" font-size="9.7" fill="#262626">Transformer (AUPRC: 0.179)</text>
<path d="M505.5 480.90H525.3" stroke="#FFA500" stroke-width="1.0" stroke-opacity="0.68"/>
<text x="533.0" y="484.30" font-size="9.7" fill="#262626">RETAIN (AUPRC: 0.091)</text>
<rect x="389" y="385.5" width="287.80" height="291.00" fill="none" stroke="#4a4a4a" stroke-width="1.15"/>
<text x="402.71" y="689.4" font-size="12" fill="#262626" text-anchor="middle">0.0</text>
<text x="385.7" y="667.92" font-size="12" fill="#262626" text-anchor="end">0.0</text>
<text x="457.57" y="689.4" font-size="12" fill="#262626" text-anchor="middle">0.2</text>
<text x="385.7" y="612.40" font-size="12" fill="#262626" text-anchor="end">0.2</text>
<text x="512.43" y="689.4" font-size="12" fill="#262626" text-anchor="middle">0.4</text>
<text x="385.7" y="556.87" font-size="12" fill="#262626" text-anchor="end">0.4</text>
<text x="567.29" y="689.4" font-size="12" fill="#262626" text-anchor="middle">0.6</text>
<text x="385.7" y="501.35" font-size="12" fill="#262626" text-anchor="end">0.6</text>
<text x="622.14" y="689.4" font-size="12" fill="#262626" text-anchor="middle">0.8</text>
<text x="385.7" y="445.82" font-size="12" fill="#262626" text-anchor="end">0.8</text>
<text x="677.00" y="689.4" font-size="12" fill="#262626" text-anchor="middle">1.0</text>
<text x="385.7" y="390.30" font-size="12" fill="#262626" text-anchor="end">1.0</text>
<text x="536.70" y="378.7" font-size="13" fill="#262626" text-anchor="middle">Precision-recall curve of external validation</text>
<text x="533.00" y="706.2" font-size="13" fill="#262626" text-anchor="middle">Recall</text>
<text x="360.7" y="531.25" font-size="13" fill="#262626" text-anchor="middle" transform="rotate(-90 360.7 531.25)">Precision</text>
</svg></body></html>
